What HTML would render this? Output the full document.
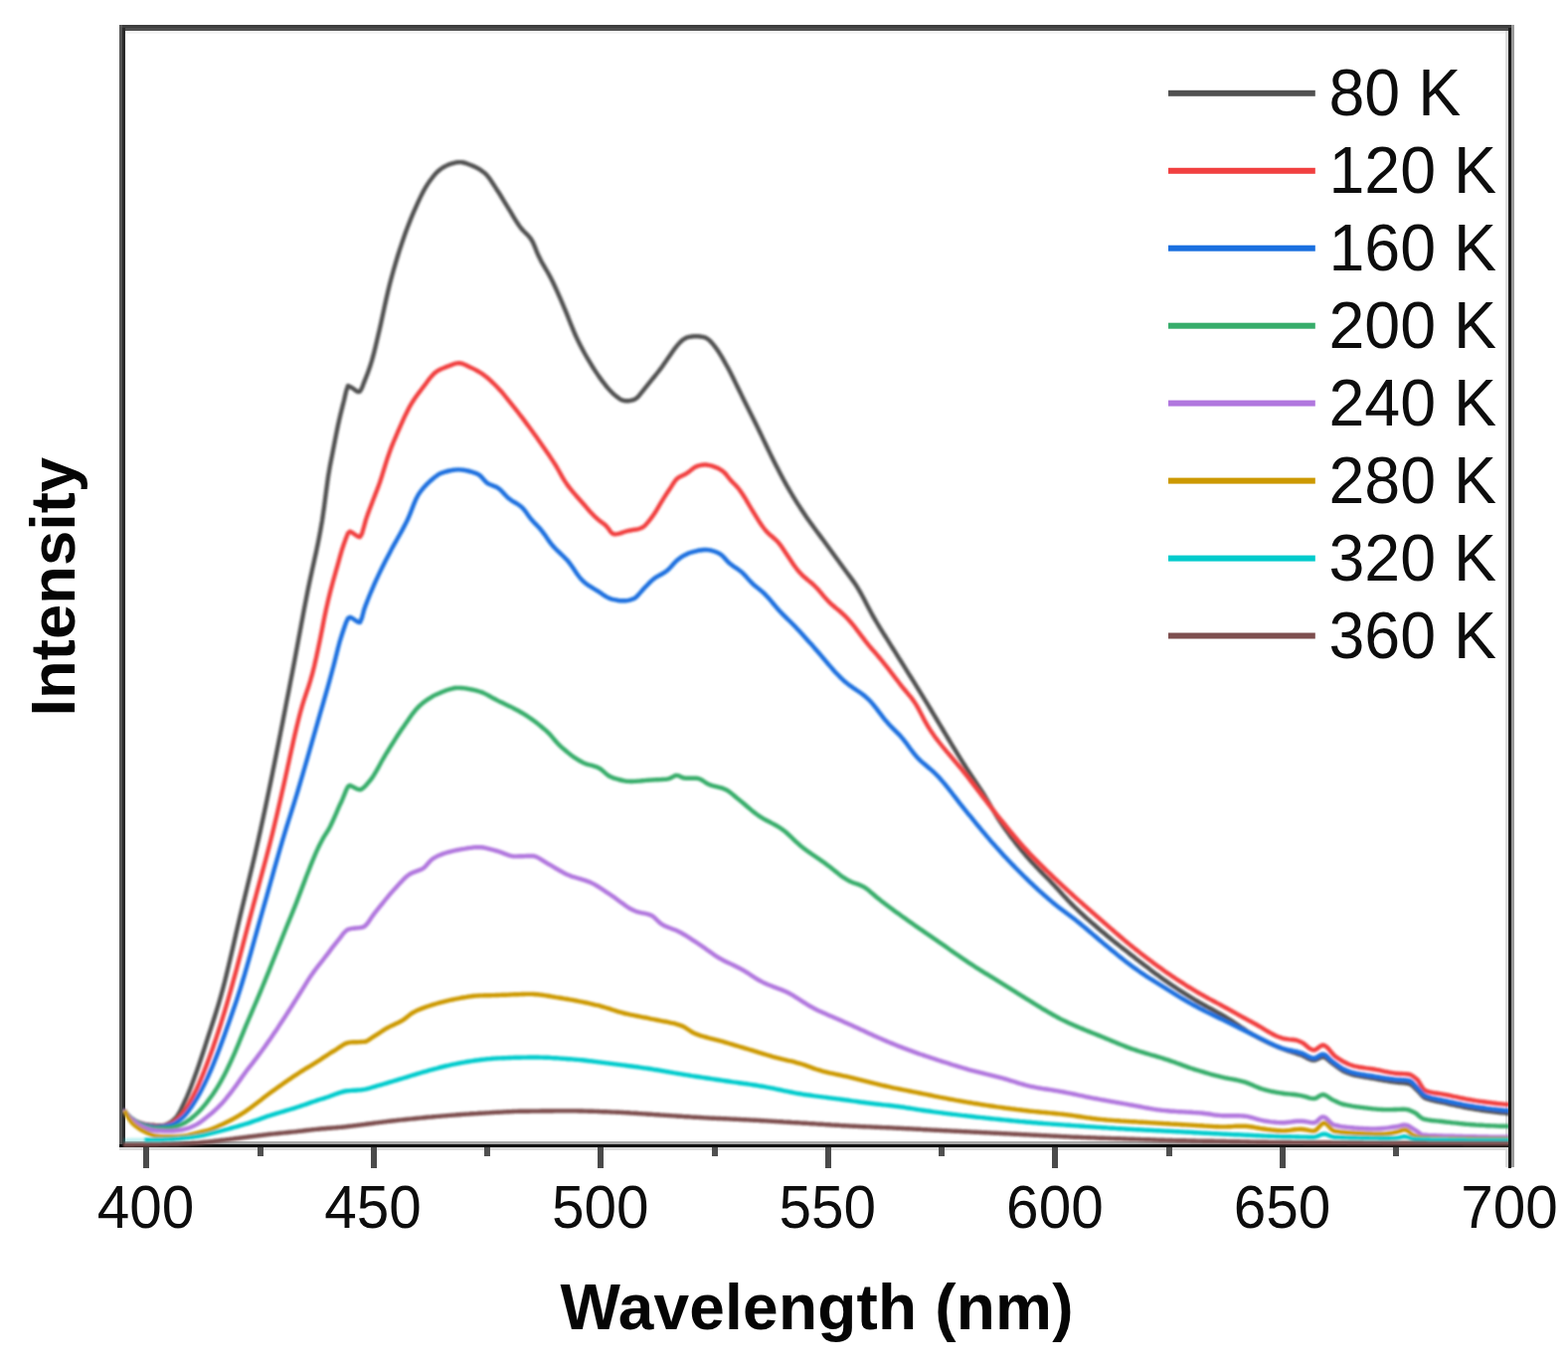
<!DOCTYPE html>
<html lang="en">
<head>
<meta charset="utf-8">
<title>Temperature-dependent emission spectra</title>
<style>
html,body{margin:0;padding:0;background:#fff;}
body{width:1577px;height:1377px;overflow:hidden;}
svg{display:block;}
text{font-family:"Liberation Sans",sans-serif;fill:#0d0d0d;}
.tick{font-size:58.5px;text-anchor:middle;}
.leg{font-size:64.5px;}
.axl{font-size:64px;font-weight:bold;text-anchor:middle;fill:#050505;}
.curve{fill:none;stroke-width:4.4;stroke-linejoin:round;stroke-linecap:butt;}
</style>
</head>
<body>
<svg width="1577" height="1377" viewBox="0 0 1577 1377">
<rect x="0" y="0" width="1577" height="1377" fill="#ffffff"/>
<g shape-rendering="crispEdges">
<rect x="120" y="25" width="1400" height="3" fill="#3d3d3d"/>
<rect x="120" y="28" width="1400" height="3" fill="#4f4f4f"/>
<rect x="126" y="31" width="1388" height="3" fill="#f6f6f6"/>
<rect x="120" y="25" width="3" height="1129" fill="#555555"/>
<rect x="123" y="28" width="3" height="1126" fill="#2a2a2a"/>
<rect x="1514" y="31" width="3" height="1143" fill="#dddddd"/>
<rect x="1520" y="25" width="3" height="1149" fill="#999999"/>
<rect x="126" y="1148" width="1391" height="3" fill="#aaaaaa"/>
<rect x="120" y="1154" width="1400" height="3" fill="#dcdcdc"/>
<rect x="120" y="1151" width="1400" height="3" fill="#111111"/>
</g>
<g clip-path="url(#clipPlot)"><g filter="url(#soft)">
<path class="curve" stroke="#515151" d="M124.0 1116.0 L126.0 1118.7 L128.0 1121.0 L130.0 1123.1 L132.0 1124.8 L134.0 1126.2 L136.0 1127.5 L138.0 1128.4 L140.0 1129.2 L142.0 1129.8 L144.0 1130.4 L146.0 1130.9 L148.0 1131.2 L150.0 1131.5 L152.0 1131.7 L154.0 1131.8 L156.0 1132.0 L158.0 1132.1 L160.0 1132.1 L162.0 1132.2 L164.0 1132.0 L166.0 1131.6 L168.0 1130.9 L170.0 1129.8 L172.0 1128.5 L174.0 1127.0 L176.0 1125.2 L178.0 1122.9 L180.0 1119.7 L182.0 1115.9 L184.0 1111.8 L186.0 1107.5 L188.0 1103.1 L190.0 1098.3 L192.0 1093.3 L194.0 1088.0 L196.0 1082.6 L198.0 1077.1 L200.0 1071.3 L202.0 1065.3 L204.0 1059.2 L206.0 1053.1 L208.0 1046.9 L210.0 1040.7 L212.0 1034.6 L214.0 1028.5 L216.0 1022.3 L218.0 1015.9 L220.0 1009.3 L222.0 1002.4 L224.0 995.1 L226.0 987.5 L228.0 979.4 L230.0 971.1 L232.0 962.6 L234.0 954.0 L236.0 945.3 L238.0 936.6 L240.0 928.0 L242.0 919.5 L244.0 911.2 L246.0 902.9 L248.0 894.7 L250.0 886.5 L252.0 878.2 L254.0 869.9 L256.0 861.4 L258.0 852.8 L260.0 844.0 L262.0 835.0 L264.0 825.8 L266.0 816.5 L268.0 807.0 L270.0 797.4 L272.0 787.7 L274.0 777.9 L276.0 768.0 L278.0 758.0 L280.0 748.0 L282.0 737.8 L284.0 727.7 L286.0 717.5 L288.0 707.2 L290.0 697.0 L292.0 686.7 L294.0 676.3 L296.0 665.8 L298.0 655.2 L300.0 644.4 L302.0 633.6 L304.0 622.9 L306.0 612.2 L308.0 601.8 L310.0 591.8 L312.0 582.2 L314.0 573.1 L316.0 564.1 L318.0 555.0 L320.0 545.5 L322.0 535.2 L324.0 523.6 L326.0 510.0 L328.0 494.5 L330.0 479.7 L332.0 468.0 L334.0 457.9 L336.0 447.7 L338.0 437.4 L340.0 427.5 L342.0 418.7 L344.0 410.6 L346.0 402.8 L348.0 393.9 L350.0 388.0 L352.0 388.9 L354.0 390.1 L356.0 391.4 L358.0 393.0 L360.0 394.1 L362.0 393.8 L364.0 390.2 L366.0 384.9 L368.0 379.9 L370.0 374.8 L372.0 369.1 L374.0 362.7 L376.0 355.4 L378.0 347.3 L380.0 338.8 L382.0 330.2 L384.0 321.2 L386.0 311.9 L388.0 302.7 L390.0 293.9 L392.0 285.8 L394.0 278.2 L396.0 271.0 L398.0 264.1 L400.0 257.5 L402.0 251.1 L404.0 245.1 L406.0 239.2 L408.0 233.6 L410.0 228.3 L412.0 223.1 L414.0 218.1 L416.0 213.4 L418.0 208.8 L420.0 204.4 L422.0 200.1 L424.0 195.9 L426.0 192.1 L428.0 188.5 L430.0 185.4 L432.0 182.4 L434.0 179.7 L436.0 177.1 L438.0 174.8 L440.0 172.7 L442.0 171.0 L444.0 169.5 L446.0 168.2 L448.0 167.1 L450.0 166.1 L452.0 165.3 L454.0 164.7 L456.0 164.1 L458.0 163.6 L460.0 163.2 L462.0 163.1 L464.0 163.1 L466.0 163.5 L468.0 164.0 L470.0 164.7 L472.0 165.5 L474.0 166.3 L476.0 167.1 L478.0 168.0 L480.0 169.0 L482.0 170.1 L484.0 171.4 L486.0 172.9 L488.0 174.5 L490.0 176.6 L492.0 179.1 L494.0 182.0 L496.0 185.0 L498.0 188.1 L500.0 191.2 L502.0 194.3 L504.0 197.5 L506.0 200.8 L508.0 204.1 L510.0 207.3 L512.0 210.6 L514.0 213.9 L516.0 217.3 L518.0 220.6 L520.0 223.8 L522.0 226.8 L524.0 229.5 L526.0 231.8 L528.0 233.8 L530.0 235.7 L532.0 237.8 L534.0 240.4 L536.0 243.9 L538.0 248.5 L540.0 253.6 L542.0 258.1 L544.0 262.1 L546.0 265.7 L548.0 269.1 L550.0 272.5 L552.0 276.0 L554.0 279.8 L556.0 283.8 L558.0 288.0 L560.0 292.4 L562.0 296.9 L564.0 301.4 L566.0 306.1 L568.0 310.8 L570.0 315.7 L572.0 320.7 L574.0 325.8 L576.0 330.7 L578.0 335.5 L580.0 339.9 L582.0 344.1 L584.0 348.0 L586.0 351.8 L588.0 355.5 L590.0 359.0 L592.0 362.4 L594.0 365.7 L596.0 369.0 L598.0 372.1 L600.0 375.1 L602.0 378.1 L604.0 380.9 L606.0 383.6 L608.0 386.2 L610.0 388.8 L612.0 391.1 L614.0 393.3 L616.0 395.3 L618.0 397.1 L620.0 398.7 L622.0 400.3 L624.0 401.7 L626.0 402.6 L628.0 403.0 L630.0 403.2 L632.0 403.2 L634.0 402.9 L636.0 402.5 L638.0 401.8 L640.0 400.6 L642.0 398.8 L644.0 396.4 L646.0 393.9 L648.0 391.4 L650.0 388.9 L652.0 386.4 L654.0 383.9 L656.0 381.4 L658.0 379.0 L660.0 376.5 L662.0 374.0 L664.0 371.4 L666.0 368.7 L668.0 365.8 L670.0 363.0 L672.0 360.1 L674.0 357.2 L676.0 354.3 L678.0 351.4 L680.0 348.8 L682.0 346.4 L684.0 344.3 L686.0 342.4 L688.0 341.0 L690.0 339.9 L692.0 339.2 L694.0 338.8 L696.0 338.5 L698.0 338.3 L700.0 338.2 L702.0 338.3 L704.0 338.5 L706.0 338.8 L708.0 339.2 L710.0 339.9 L712.0 341.1 L714.0 342.7 L716.0 344.9 L718.0 347.3 L720.0 349.9 L722.0 352.8 L724.0 355.9 L726.0 359.2 L728.0 362.6 L730.0 366.2 L732.0 369.8 L734.0 373.6 L736.0 377.5 L738.0 381.5 L740.0 385.6 L742.0 389.7 L744.0 393.8 L746.0 397.9 L748.0 401.9 L750.0 405.9 L752.0 409.9 L754.0 413.9 L756.0 417.9 L758.0 421.9 L760.0 426.0 L762.0 430.1 L764.0 434.2 L766.0 438.4 L768.0 442.6 L770.0 446.8 L772.0 451.0 L774.0 455.1 L776.0 459.2 L778.0 463.2 L780.0 467.2 L782.0 471.1 L784.0 474.9 L786.0 478.7 L788.0 482.5 L790.0 486.1 L792.0 489.7 L794.0 493.1 L796.0 496.5 L798.0 499.9 L800.0 503.1 L802.0 506.3 L804.0 509.4 L806.0 512.5 L808.0 515.5 L810.0 518.5 L812.0 521.4 L814.0 524.2 L816.0 527.0 L818.0 529.8 L820.0 532.5 L822.0 535.2 L824.0 537.9 L826.0 540.6 L828.0 543.3 L830.0 546.0 L832.0 548.7 L834.0 551.5 L836.0 554.2 L838.0 557.0 L840.0 559.7 L842.0 562.5 L844.0 565.2 L846.0 568.0 L848.0 570.7 L850.0 573.5 L852.0 576.2 L854.0 578.9 L856.0 581.6 L858.0 584.4 L860.0 587.3 L862.0 590.3 L864.0 593.6 L866.0 597.1 L868.0 600.7 L870.0 604.6 L872.0 608.4 L874.0 612.3 L876.0 616.0 L878.0 619.6 L880.0 623.1 L882.0 626.5 L884.0 629.8 L886.0 633.1 L888.0 636.3 L890.0 639.5 L892.0 642.7 L894.0 645.9 L896.0 649.1 L898.0 652.2 L900.0 655.4 L902.0 658.6 L904.0 661.8 L906.0 665.0 L908.0 668.2 L910.0 671.4 L912.0 674.6 L914.0 677.8 L916.0 681.0 L918.0 684.2 L920.0 687.4 L922.0 690.6 L924.0 693.9 L926.0 697.1 L928.0 700.4 L930.0 703.6 L932.0 706.9 L934.0 710.2 L936.0 713.5 L938.0 716.9 L940.0 720.2 L942.0 723.5 L944.0 726.9 L946.0 730.2 L948.0 733.5 L950.0 736.9 L952.0 740.2 L954.0 743.5 L956.0 746.8 L958.0 750.1 L960.0 753.4 L962.0 756.7 L964.0 759.9 L966.0 763.1 L968.0 766.3 L970.0 769.5 L972.0 772.6 L974.0 775.7 L976.0 778.7 L978.0 781.7 L980.0 784.7 L982.0 787.7 L984.0 790.7 L986.0 793.7 L988.0 796.8 L990.0 800.0 L992.0 803.3 L994.0 806.7 L996.0 810.2 L998.0 813.6 L1000.0 817.0 L1002.0 820.3 L1004.0 823.5 L1006.0 826.6 L1008.0 829.6 L1010.0 832.5 L1012.0 835.3 L1014.0 838.0 L1016.0 840.8 L1018.0 843.4 L1020.0 846.0 L1022.0 848.6 L1024.0 851.1 L1026.0 853.6 L1028.0 856.0 L1030.0 858.4 L1032.0 860.7 L1034.0 863.0 L1036.0 865.3 L1038.0 867.5 L1040.0 869.6 L1042.0 871.7 L1044.0 873.8 L1046.0 875.9 L1048.0 877.9 L1050.0 880.0 L1052.0 882.0 L1054.0 884.0 L1056.0 886.1 L1058.0 888.2 L1060.0 890.3 L1062.0 892.4 L1064.0 894.6 L1066.0 896.8 L1068.0 899.0 L1070.0 901.2 L1072.0 903.3 L1074.0 905.5 L1076.0 907.6 L1078.0 909.6 L1080.0 911.6 L1082.0 913.5 L1084.0 915.4 L1086.0 917.3 L1088.0 919.2 L1090.0 921.0 L1092.0 922.8 L1094.0 924.6 L1096.0 926.3 L1098.0 928.1 L1100.0 929.8 L1102.0 931.5 L1104.0 933.3 L1106.0 935.0 L1108.0 936.7 L1110.0 938.3 L1112.0 940.0 L1114.0 941.7 L1116.0 943.3 L1118.0 945.0 L1120.0 946.6 L1122.0 948.2 L1124.0 949.8 L1126.0 951.4 L1128.0 953.0 L1130.0 954.5 L1132.0 956.1 L1134.0 957.6 L1136.0 959.2 L1138.0 960.8 L1140.0 962.3 L1142.0 963.9 L1144.0 965.4 L1146.0 967.0 L1148.0 968.5 L1150.0 970.0 L1152.0 971.6 L1154.0 973.1 L1156.0 974.6 L1158.0 976.2 L1160.0 977.7 L1162.0 979.2 L1164.0 980.6 L1166.0 982.1 L1168.0 983.5 L1170.0 985.0 L1172.0 986.4 L1174.0 987.7 L1176.0 989.1 L1178.0 990.5 L1180.0 991.8 L1182.0 993.2 L1184.0 994.5 L1186.0 995.8 L1188.0 997.1 L1190.0 998.4 L1192.0 999.7 L1194.0 1000.9 L1196.0 1002.2 L1198.0 1003.4 L1200.0 1004.6 L1202.0 1005.8 L1204.0 1007.0 L1206.0 1008.2 L1208.0 1009.3 L1210.0 1010.4 L1212.0 1011.5 L1214.0 1012.6 L1216.0 1013.7 L1218.0 1014.8 L1220.0 1015.9 L1222.0 1017.0 L1224.0 1018.1 L1226.0 1019.2 L1228.0 1020.3 L1230.0 1021.5 L1232.0 1022.7 L1234.0 1023.9 L1236.0 1025.1 L1238.0 1026.4 L1240.0 1027.7 L1242.0 1029.0 L1244.0 1030.4 L1246.0 1031.7 L1248.0 1033.1 L1250.0 1034.4 L1252.0 1035.7 L1254.0 1037.0 L1256.0 1038.3 L1258.0 1039.5 L1260.0 1040.7 L1262.0 1041.8 L1264.0 1042.9 L1266.0 1044.0 L1268.0 1045.0 L1270.0 1046.0 L1272.0 1047.0 L1274.0 1048.0 L1276.0 1049.0 L1278.0 1049.9 L1280.0 1050.8 L1282.0 1051.7 L1284.0 1052.6 L1286.0 1053.4 L1288.0 1054.2 L1290.0 1055.0 L1292.0 1055.7 L1294.0 1056.4 L1296.0 1057.1 L1298.0 1057.7 L1300.0 1058.3 L1302.0 1058.9 L1304.0 1059.6 L1306.0 1060.3 L1308.0 1061.0 L1310.0 1061.8 L1312.0 1062.8 L1314.0 1063.9 L1316.0 1065.0 L1318.0 1065.8 L1320.0 1066.4 L1322.0 1066.5 L1324.0 1065.9 L1326.0 1064.8 L1328.0 1063.7 L1330.0 1063.0 L1332.0 1063.3 L1334.0 1064.5 L1336.0 1066.2 L1338.0 1068.1 L1340.0 1069.6 L1342.0 1071.0 L1344.0 1072.5 L1346.0 1074.0 L1348.0 1075.4 L1350.0 1076.7 L1352.0 1077.8 L1354.0 1078.7 L1356.0 1079.5 L1358.0 1080.2 L1360.0 1080.8 L1362.0 1081.3 L1364.0 1081.8 L1366.0 1082.2 L1368.0 1082.6 L1370.0 1082.9 L1372.0 1083.3 L1374.0 1083.6 L1376.0 1083.9 L1378.0 1084.3 L1380.0 1084.6 L1382.0 1084.9 L1384.0 1085.3 L1386.0 1085.7 L1388.0 1086.0 L1390.0 1086.4 L1392.0 1086.8 L1394.0 1087.1 L1396.0 1087.4 L1398.0 1087.8 L1400.0 1088.1 L1402.0 1088.3 L1404.0 1088.6 L1406.0 1088.8 L1408.0 1089.0 L1410.0 1089.1 L1412.0 1089.3 L1414.0 1089.5 L1416.0 1089.8 L1418.0 1090.3 L1420.0 1091.6 L1422.0 1093.4 L1424.0 1095.4 L1426.0 1097.3 L1428.0 1099.5 L1430.0 1101.8 L1432.0 1103.7 L1434.0 1104.8 L1436.0 1105.5 L1438.0 1106.2 L1440.0 1106.7 L1442.0 1107.2 L1444.0 1107.6 L1446.0 1108.0 L1448.0 1108.4 L1450.0 1108.8 L1452.0 1109.2 L1454.0 1109.6 L1456.0 1110.1 L1458.0 1110.5 L1460.0 1111.0 L1462.0 1111.4 L1464.0 1111.8 L1466.0 1112.3 L1468.0 1112.7 L1470.0 1113.1 L1472.0 1113.6 L1474.0 1114.0 L1476.0 1114.4 L1478.0 1114.7 L1480.0 1115.1 L1482.0 1115.4 L1484.0 1115.8 L1486.0 1116.1 L1488.0 1116.4 L1490.0 1116.7 L1492.0 1117.0 L1494.0 1117.3 L1496.0 1117.5 L1498.0 1117.8 L1500.0 1118.1 L1502.0 1118.3 L1504.0 1118.6 L1506.0 1118.8 L1508.0 1119.0 L1510.0 1119.2 L1512.0 1119.4 L1514.0 1119.6 L1516.0 1119.8 L1518.0 1120.0"/>
<path class="curve" stroke="#F14040" d="M124.0 1116.0 L126.0 1118.7 L128.0 1121.0 L130.0 1123.1 L132.0 1124.7 L134.0 1126.2 L136.0 1127.4 L138.0 1128.5 L140.0 1129.3 L142.0 1130.2 L144.0 1130.9 L146.0 1131.5 L148.0 1132.0 L150.0 1132.4 L152.0 1132.6 L154.0 1132.7 L156.0 1132.8 L158.0 1132.9 L160.0 1133.0 L162.0 1132.9 L164.0 1132.8 L166.0 1132.3 L168.0 1131.7 L170.0 1130.9 L172.0 1130.0 L174.0 1129.0 L176.0 1127.7 L178.0 1126.0 L180.0 1124.1 L182.0 1122.0 L184.0 1119.7 L186.0 1117.0 L188.0 1113.9 L190.0 1110.5 L192.0 1106.9 L194.0 1103.0 L196.0 1099.0 L198.0 1094.9 L200.0 1090.4 L202.0 1085.7 L204.0 1080.8 L206.0 1075.8 L208.0 1070.6 L210.0 1065.3 L212.0 1059.8 L214.0 1054.2 L216.0 1048.3 L218.0 1042.4 L220.0 1036.3 L222.0 1030.1 L224.0 1023.7 L226.0 1017.1 L228.0 1010.4 L230.0 1003.5 L232.0 996.4 L234.0 989.2 L236.0 981.9 L238.0 974.5 L240.0 966.9 L242.0 959.3 L244.0 951.6 L246.0 944.0 L248.0 936.3 L250.0 928.6 L252.0 921.0 L254.0 913.5 L256.0 906.1 L258.0 898.7 L260.0 891.4 L262.0 884.0 L264.0 876.7 L266.0 869.3 L268.0 861.7 L270.0 854.1 L272.0 846.3 L274.0 838.3 L276.0 830.1 L278.0 821.6 L280.0 813.0 L282.0 804.3 L284.0 795.6 L286.0 786.7 L288.0 777.6 L290.0 768.5 L292.0 759.3 L294.0 750.2 L296.0 741.3 L298.0 732.7 L300.0 724.4 L302.0 716.7 L304.0 709.6 L306.0 703.2 L308.0 697.3 L310.0 691.5 L312.0 685.2 L314.0 678.2 L316.0 670.3 L318.0 661.5 L320.0 652.3 L322.0 642.8 L324.0 632.7 L326.0 622.4 L328.0 612.7 L330.0 603.9 L332.0 595.9 L334.0 588.3 L336.0 581.0 L338.0 573.9 L340.0 566.8 L342.0 559.6 L344.0 552.7 L346.0 546.7 L348.0 541.2 L350.0 536.2 L352.0 534.6 L354.0 535.6 L356.0 537.0 L358.0 538.3 L360.0 539.7 L362.0 540.2 L364.0 536.8 L366.0 530.0 L368.0 522.6 L370.0 516.8 L372.0 511.5 L374.0 506.2 L376.0 501.0 L378.0 495.9 L380.0 490.7 L382.0 485.2 L384.0 479.1 L386.0 472.7 L388.0 466.1 L390.0 459.9 L392.0 454.2 L394.0 448.9 L396.0 444.0 L398.0 439.3 L400.0 434.7 L402.0 430.2 L404.0 425.7 L406.0 421.2 L408.0 416.9 L410.0 412.9 L412.0 409.1 L414.0 405.7 L416.0 402.5 L418.0 399.6 L420.0 396.8 L422.0 394.1 L424.0 391.5 L426.0 388.9 L428.0 386.2 L430.0 383.5 L432.0 380.8 L434.0 378.4 L436.0 376.2 L438.0 374.5 L440.0 373.1 L442.0 372.0 L444.0 371.0 L446.0 370.2 L448.0 369.4 L450.0 368.6 L452.0 367.9 L454.0 367.1 L456.0 366.3 L458.0 365.7 L460.0 365.3 L462.0 365.2 L464.0 365.5 L466.0 366.2 L468.0 367.0 L470.0 368.0 L472.0 369.0 L474.0 369.9 L476.0 370.9 L478.0 371.9 L480.0 373.0 L482.0 374.2 L484.0 375.4 L486.0 376.7 L488.0 378.2 L490.0 379.8 L492.0 381.5 L494.0 383.4 L496.0 385.3 L498.0 387.3 L500.0 389.3 L502.0 391.4 L504.0 393.6 L506.0 395.9 L508.0 398.3 L510.0 400.8 L512.0 403.3 L514.0 405.9 L516.0 408.4 L518.0 410.9 L520.0 413.4 L522.0 416.0 L524.0 418.6 L526.0 421.2 L528.0 423.9 L530.0 426.6 L532.0 429.3 L534.0 432.0 L536.0 434.7 L538.0 437.5 L540.0 440.3 L542.0 443.2 L544.0 446.0 L546.0 448.9 L548.0 451.8 L550.0 454.7 L552.0 457.6 L554.0 460.6 L556.0 463.6 L558.0 466.7 L560.0 470.0 L562.0 473.5 L564.0 477.1 L566.0 480.6 L568.0 483.9 L570.0 486.9 L572.0 489.6 L574.0 492.2 L576.0 494.6 L578.0 496.9 L580.0 499.2 L582.0 501.5 L584.0 503.7 L586.0 506.0 L588.0 508.3 L590.0 510.7 L592.0 513.0 L594.0 515.2 L596.0 517.3 L598.0 519.4 L600.0 521.2 L602.0 522.9 L604.0 524.4 L606.0 525.9 L608.0 527.4 L610.0 529.3 L612.0 531.8 L614.0 534.7 L616.0 536.7 L618.0 537.4 L620.0 537.2 L622.0 536.8 L624.0 536.3 L626.0 535.6 L628.0 535.0 L630.0 534.4 L632.0 533.9 L634.0 533.5 L636.0 533.1 L638.0 532.8 L640.0 532.5 L642.0 532.1 L644.0 531.5 L646.0 530.6 L648.0 529.2 L650.0 527.2 L652.0 524.8 L654.0 522.3 L656.0 519.7 L658.0 516.8 L660.0 513.7 L662.0 510.3 L664.0 506.9 L666.0 503.6 L668.0 500.4 L670.0 497.3 L672.0 494.3 L674.0 491.3 L676.0 488.1 L678.0 485.0 L680.0 482.4 L682.0 480.6 L684.0 479.4 L686.0 478.5 L688.0 477.6 L690.0 476.5 L692.0 475.2 L694.0 473.6 L696.0 472.0 L698.0 470.5 L700.0 469.4 L702.0 468.6 L704.0 468.1 L706.0 467.7 L708.0 467.5 L710.0 467.5 L712.0 467.8 L714.0 468.2 L716.0 468.7 L718.0 469.4 L720.0 470.1 L722.0 470.9 L724.0 472.0 L726.0 473.3 L728.0 474.9 L730.0 476.9 L732.0 479.5 L734.0 482.0 L736.0 484.2 L738.0 486.3 L740.0 488.3 L742.0 490.5 L744.0 493.0 L746.0 495.9 L748.0 499.0 L750.0 502.2 L752.0 505.6 L754.0 509.0 L756.0 512.3 L758.0 515.6 L760.0 518.9 L762.0 522.1 L764.0 525.3 L766.0 528.3 L768.0 531.0 L770.0 533.5 L772.0 535.7 L774.0 537.6 L776.0 539.3 L778.0 541.0 L780.0 542.8 L782.0 544.8 L784.0 547.1 L786.0 549.8 L788.0 552.7 L790.0 555.7 L792.0 558.8 L794.0 561.8 L796.0 564.8 L798.0 567.7 L800.0 570.5 L802.0 573.1 L804.0 575.5 L806.0 577.6 L808.0 579.6 L810.0 581.3 L812.0 583.0 L814.0 584.6 L816.0 586.3 L818.0 588.0 L820.0 590.0 L822.0 592.1 L824.0 594.3 L826.0 596.7 L828.0 599.1 L830.0 601.4 L832.0 603.6 L834.0 605.7 L836.0 607.6 L838.0 609.3 L840.0 611.0 L842.0 612.6 L844.0 614.3 L846.0 616.0 L848.0 617.8 L850.0 619.7 L852.0 621.8 L854.0 624.0 L856.0 626.3 L858.0 628.7 L860.0 631.2 L862.0 633.8 L864.0 636.4 L866.0 639.1 L868.0 641.7 L870.0 644.4 L872.0 646.9 L874.0 649.4 L876.0 651.7 L878.0 654.1 L880.0 656.3 L882.0 658.6 L884.0 661.0 L886.0 663.4 L888.0 665.8 L890.0 668.3 L892.0 670.9 L894.0 673.4 L896.0 676.1 L898.0 678.7 L900.0 681.3 L902.0 683.9 L904.0 686.5 L906.0 689.1 L908.0 691.6 L910.0 694.0 L912.0 696.4 L914.0 698.8 L916.0 701.2 L918.0 703.8 L920.0 706.7 L922.0 709.9 L924.0 713.4 L926.0 717.2 L928.0 721.1 L930.0 724.9 L932.0 728.4 L934.0 731.8 L936.0 734.9 L938.0 737.8 L940.0 740.7 L942.0 743.4 L944.0 746.0 L946.0 748.5 L948.0 751.0 L950.0 753.4 L952.0 755.8 L954.0 758.2 L956.0 760.5 L958.0 762.9 L960.0 765.2 L962.0 767.6 L964.0 770.0 L966.0 772.4 L968.0 774.9 L970.0 777.4 L972.0 779.9 L974.0 782.5 L976.0 785.1 L978.0 787.7 L980.0 790.3 L982.0 793.0 L984.0 795.6 L986.0 798.2 L988.0 800.8 L990.0 803.4 L992.0 806.0 L994.0 808.6 L996.0 811.2 L998.0 813.7 L1000.0 816.2 L1002.0 818.8 L1004.0 821.3 L1006.0 823.8 L1008.0 826.2 L1010.0 828.7 L1012.0 831.2 L1014.0 833.6 L1016.0 836.1 L1018.0 838.5 L1020.0 840.9 L1022.0 843.2 L1024.0 845.6 L1026.0 847.9 L1028.0 850.2 L1030.0 852.4 L1032.0 854.6 L1034.0 856.8 L1036.0 858.9 L1038.0 861.0 L1040.0 863.1 L1042.0 865.1 L1044.0 867.1 L1046.0 869.2 L1048.0 871.1 L1050.0 873.1 L1052.0 875.1 L1054.0 877.0 L1056.0 878.9 L1058.0 880.9 L1060.0 882.8 L1062.0 884.7 L1064.0 886.6 L1066.0 888.4 L1068.0 890.3 L1070.0 892.2 L1072.0 894.0 L1074.0 895.8 L1076.0 897.7 L1078.0 899.5 L1080.0 901.3 L1082.0 903.1 L1084.0 904.9 L1086.0 906.6 L1088.0 908.4 L1090.0 910.2 L1092.0 911.9 L1094.0 913.7 L1096.0 915.4 L1098.0 917.2 L1100.0 918.9 L1102.0 920.7 L1104.0 922.4 L1106.0 924.2 L1108.0 925.9 L1110.0 927.7 L1112.0 929.4 L1114.0 931.1 L1116.0 932.9 L1118.0 934.6 L1120.0 936.3 L1122.0 938.1 L1124.0 939.8 L1126.0 941.5 L1128.0 943.2 L1130.0 944.9 L1132.0 946.6 L1134.0 948.3 L1136.0 949.9 L1138.0 951.5 L1140.0 953.1 L1142.0 954.7 L1144.0 956.3 L1146.0 957.9 L1148.0 959.5 L1150.0 961.0 L1152.0 962.5 L1154.0 964.1 L1156.0 965.6 L1158.0 967.1 L1160.0 968.6 L1162.0 970.0 L1164.0 971.5 L1166.0 972.9 L1168.0 974.3 L1170.0 975.8 L1172.0 977.2 L1174.0 978.6 L1176.0 979.9 L1178.0 981.3 L1180.0 982.6 L1182.0 984.0 L1184.0 985.3 L1186.0 986.6 L1188.0 987.9 L1190.0 989.2 L1192.0 990.5 L1194.0 991.8 L1196.0 993.0 L1198.0 994.2 L1200.0 995.4 L1202.0 996.6 L1204.0 997.8 L1206.0 999.0 L1208.0 1000.1 L1210.0 1001.2 L1212.0 1002.4 L1214.0 1003.5 L1216.0 1004.6 L1218.0 1005.6 L1220.0 1006.7 L1222.0 1007.8 L1224.0 1008.9 L1226.0 1009.9 L1228.0 1011.0 L1230.0 1012.1 L1232.0 1013.2 L1234.0 1014.3 L1236.0 1015.4 L1238.0 1016.5 L1240.0 1017.6 L1242.0 1018.7 L1244.0 1019.9 L1246.0 1021.0 L1248.0 1022.1 L1250.0 1023.2 L1252.0 1024.3 L1254.0 1025.4 L1256.0 1026.5 L1258.0 1027.5 L1260.0 1028.6 L1262.0 1029.7 L1264.0 1030.8 L1266.0 1032.0 L1268.0 1033.1 L1270.0 1034.3 L1272.0 1035.6 L1274.0 1036.8 L1276.0 1038.0 L1278.0 1039.1 L1280.0 1040.2 L1282.0 1041.3 L1284.0 1042.2 L1286.0 1043.0 L1288.0 1043.7 L1290.0 1044.3 L1292.0 1044.8 L1294.0 1045.1 L1296.0 1045.4 L1298.0 1045.6 L1300.0 1045.7 L1302.0 1046.0 L1304.0 1046.4 L1306.0 1047.0 L1308.0 1047.9 L1310.0 1048.9 L1312.0 1050.3 L1314.0 1052.0 L1316.0 1053.7 L1318.0 1055.1 L1320.0 1056.0 L1322.0 1056.2 L1324.0 1055.3 L1326.0 1053.7 L1328.0 1052.2 L1330.0 1051.3 L1332.0 1051.5 L1334.0 1052.8 L1336.0 1054.8 L1338.0 1057.1 L1340.0 1059.6 L1342.0 1061.8 L1344.0 1063.4 L1346.0 1064.7 L1348.0 1066.0 L1350.0 1067.2 L1352.0 1068.2 L1354.0 1069.2 L1356.0 1070.2 L1358.0 1071.0 L1360.0 1071.7 L1362.0 1072.3 L1364.0 1072.7 L1366.0 1073.2 L1368.0 1073.5 L1370.0 1073.8 L1372.0 1074.1 L1374.0 1074.4 L1376.0 1074.6 L1378.0 1074.9 L1380.0 1075.2 L1382.0 1075.5 L1384.0 1075.9 L1386.0 1076.2 L1388.0 1076.7 L1390.0 1077.1 L1392.0 1077.6 L1394.0 1078.0 L1396.0 1078.4 L1398.0 1078.8 L1400.0 1079.1 L1402.0 1079.4 L1404.0 1079.7 L1406.0 1079.8 L1408.0 1080.0 L1410.0 1080.0 L1412.0 1080.1 L1414.0 1080.3 L1416.0 1080.5 L1418.0 1080.8 L1420.0 1081.7 L1422.0 1083.1 L1424.0 1084.7 L1426.0 1086.5 L1428.0 1089.6 L1430.0 1093.1 L1432.0 1095.9 L1434.0 1097.2 L1436.0 1097.8 L1438.0 1098.4 L1440.0 1098.8 L1442.0 1099.2 L1444.0 1099.5 L1446.0 1099.8 L1448.0 1100.1 L1450.0 1100.4 L1452.0 1100.8 L1454.0 1101.1 L1456.0 1101.5 L1458.0 1101.9 L1460.0 1102.3 L1462.0 1102.8 L1464.0 1103.2 L1466.0 1103.6 L1468.0 1104.1 L1470.0 1104.5 L1472.0 1104.9 L1474.0 1105.3 L1476.0 1105.7 L1478.0 1106.0 L1480.0 1106.4 L1482.0 1106.7 L1484.0 1107.1 L1486.0 1107.4 L1488.0 1107.7 L1490.0 1107.9 L1492.0 1108.2 L1494.0 1108.5 L1496.0 1108.8 L1498.0 1109.0 L1500.0 1109.3 L1502.0 1109.5 L1504.0 1109.7 L1506.0 1110.0 L1508.0 1110.2 L1510.0 1110.4 L1512.0 1110.6 L1514.0 1110.8 L1516.0 1110.9 L1518.0 1111.1"/>
<path class="curve" stroke="#1A6FDF" d="M124.0 1116.0 L126.0 1118.6 L128.0 1121.0 L130.0 1123.0 L132.0 1124.8 L134.0 1126.3 L136.0 1127.6 L138.0 1128.8 L140.0 1129.8 L142.0 1130.7 L144.0 1131.4 L146.0 1132.0 L148.0 1132.5 L150.0 1132.9 L152.0 1133.2 L154.0 1133.5 L156.0 1133.7 L158.0 1133.8 L160.0 1133.7 L162.0 1133.5 L164.0 1133.3 L166.0 1132.9 L168.0 1132.5 L170.0 1132.0 L172.0 1131.5 L174.0 1130.6 L176.0 1129.6 L178.0 1128.4 L180.0 1126.9 L182.0 1125.4 L184.0 1123.7 L186.0 1121.7 L188.0 1119.4 L190.0 1116.8 L192.0 1114.0 L194.0 1111.0 L196.0 1107.9 L198.0 1104.7 L200.0 1101.2 L202.0 1097.5 L204.0 1093.6 L206.0 1089.5 L208.0 1085.4 L210.0 1081.0 L212.0 1076.5 L214.0 1071.8 L216.0 1066.9 L218.0 1061.9 L220.0 1056.7 L222.0 1051.4 L224.0 1046.0 L226.0 1040.4 L228.0 1034.8 L230.0 1029.2 L232.0 1023.5 L234.0 1017.8 L236.0 1012.0 L238.0 1006.1 L240.0 999.9 L242.0 993.6 L244.0 987.0 L246.0 980.3 L248.0 973.4 L250.0 966.4 L252.0 959.3 L254.0 952.1 L256.0 945.0 L258.0 937.8 L260.0 930.6 L262.0 923.5 L264.0 916.5 L266.0 909.4 L268.0 902.3 L270.0 895.2 L272.0 888.0 L274.0 880.8 L276.0 873.7 L278.0 866.6 L280.0 859.6 L282.0 852.6 L284.0 845.8 L286.0 839.1 L288.0 832.5 L290.0 826.1 L292.0 819.8 L294.0 813.5 L296.0 807.1 L298.0 800.6 L300.0 794.0 L302.0 787.2 L304.0 780.4 L306.0 773.5 L308.0 766.6 L310.0 759.6 L312.0 752.6 L314.0 745.6 L316.0 738.6 L318.0 731.6 L320.0 724.6 L322.0 717.7 L324.0 710.8 L326.0 703.8 L328.0 696.8 L330.0 689.8 L332.0 682.7 L334.0 675.3 L336.0 667.7 L338.0 659.7 L340.0 651.7 L342.0 644.3 L344.0 638.0 L346.0 632.0 L348.0 626.2 L350.0 622.0 L352.0 620.8 L354.0 621.7 L356.0 623.0 L358.0 624.3 L360.0 625.6 L362.0 626.1 L364.0 621.5 L366.0 613.8 L368.0 608.1 L370.0 603.0 L372.0 598.0 L374.0 593.3 L376.0 588.7 L378.0 584.2 L380.0 579.9 L382.0 575.6 L384.0 571.5 L386.0 567.5 L388.0 563.6 L390.0 559.8 L392.0 555.9 L394.0 552.1 L396.0 548.4 L398.0 544.9 L400.0 541.3 L402.0 537.7 L404.0 534.1 L406.0 530.4 L408.0 526.6 L410.0 522.5 L412.0 517.9 L414.0 512.9 L416.0 507.6 L418.0 502.8 L420.0 498.9 L422.0 495.7 L424.0 493.0 L426.0 490.6 L428.0 488.4 L430.0 486.4 L432.0 484.5 L434.0 482.7 L436.0 481.0 L438.0 479.4 L440.0 477.9 L442.0 476.7 L444.0 475.8 L446.0 475.1 L448.0 474.5 L450.0 474.0 L452.0 473.5 L454.0 473.1 L456.0 472.8 L458.0 472.6 L460.0 472.4 L462.0 472.4 L464.0 472.6 L466.0 472.8 L468.0 473.1 L470.0 473.5 L472.0 474.0 L474.0 474.5 L476.0 475.1 L478.0 475.8 L480.0 476.6 L482.0 477.7 L484.0 479.5 L486.0 481.8 L488.0 484.0 L490.0 485.8 L492.0 487.0 L494.0 487.8 L496.0 488.6 L498.0 489.3 L500.0 490.3 L502.0 491.6 L504.0 493.4 L506.0 495.5 L508.0 497.8 L510.0 499.8 L512.0 501.6 L514.0 503.1 L516.0 504.3 L518.0 505.5 L520.0 506.7 L522.0 508.0 L524.0 509.5 L526.0 511.4 L528.0 513.7 L530.0 516.5 L532.0 519.4 L534.0 522.0 L536.0 524.3 L538.0 526.4 L540.0 528.4 L542.0 530.5 L544.0 532.8 L546.0 535.4 L548.0 538.1 L550.0 541.0 L552.0 543.9 L554.0 546.6 L556.0 549.0 L558.0 551.3 L560.0 553.3 L562.0 555.2 L564.0 557.1 L566.0 559.0 L568.0 560.9 L570.0 563.0 L572.0 565.3 L574.0 567.9 L576.0 570.8 L578.0 573.7 L580.0 576.7 L582.0 579.5 L584.0 582.0 L586.0 584.1 L588.0 585.9 L590.0 587.5 L592.0 588.9 L594.0 590.1 L596.0 591.4 L598.0 592.6 L600.0 593.8 L602.0 595.0 L604.0 596.4 L606.0 597.8 L608.0 599.1 L610.0 600.4 L612.0 601.4 L614.0 602.2 L616.0 602.8 L618.0 603.2 L620.0 603.6 L622.0 604.0 L624.0 604.2 L626.0 604.3 L628.0 604.3 L630.0 604.2 L632.0 603.8 L634.0 603.3 L636.0 602.7 L638.0 601.9 L640.0 600.4 L642.0 598.4 L644.0 596.1 L646.0 593.8 L648.0 591.6 L650.0 589.5 L652.0 587.4 L654.0 585.4 L656.0 583.5 L658.0 581.9 L660.0 580.5 L662.0 579.4 L664.0 578.3 L666.0 577.2 L668.0 576.0 L670.0 574.6 L672.0 573.0 L674.0 571.0 L676.0 568.8 L678.0 566.5 L680.0 564.4 L682.0 562.7 L684.0 561.2 L686.0 559.9 L688.0 558.7 L690.0 557.7 L692.0 556.7 L694.0 556.0 L696.0 555.3 L698.0 554.8 L700.0 554.3 L702.0 553.8 L704.0 553.5 L706.0 553.2 L708.0 553.0 L710.0 553.0 L712.0 553.1 L714.0 553.4 L716.0 553.9 L718.0 554.5 L720.0 555.2 L722.0 556.0 L724.0 557.1 L726.0 558.5 L728.0 560.5 L730.0 562.8 L732.0 565.0 L734.0 566.8 L736.0 568.4 L738.0 569.8 L740.0 571.1 L742.0 572.4 L744.0 573.9 L746.0 575.5 L748.0 577.4 L750.0 579.6 L752.0 581.9 L754.0 584.1 L756.0 586.2 L758.0 588.1 L760.0 589.8 L762.0 591.4 L764.0 593.0 L766.0 594.6 L768.0 596.4 L770.0 598.4 L772.0 600.5 L774.0 602.7 L776.0 605.1 L778.0 607.5 L780.0 609.9 L782.0 612.2 L784.0 614.4 L786.0 616.6 L788.0 618.6 L790.0 620.6 L792.0 622.6 L794.0 624.5 L796.0 626.5 L798.0 628.5 L800.0 630.6 L802.0 632.7 L804.0 634.8 L806.0 637.0 L808.0 639.2 L810.0 641.4 L812.0 643.7 L814.0 645.9 L816.0 648.1 L818.0 650.4 L820.0 652.7 L822.0 655.0 L824.0 657.3 L826.0 659.6 L828.0 662.0 L830.0 664.4 L832.0 666.7 L834.0 669.1 L836.0 671.4 L838.0 673.7 L840.0 675.9 L842.0 678.0 L844.0 680.1 L846.0 682.1 L848.0 684.0 L850.0 685.8 L852.0 687.4 L854.0 689.0 L856.0 690.4 L858.0 691.8 L860.0 693.1 L862.0 694.5 L864.0 695.8 L866.0 697.2 L868.0 698.7 L870.0 700.3 L872.0 702.1 L874.0 704.0 L876.0 706.1 L878.0 708.4 L880.0 710.9 L882.0 713.4 L884.0 716.1 L886.0 718.7 L888.0 721.3 L890.0 723.8 L892.0 726.2 L894.0 728.5 L896.0 730.6 L898.0 732.6 L900.0 734.6 L902.0 736.6 L904.0 738.6 L906.0 740.8 L908.0 743.1 L910.0 745.6 L912.0 748.2 L914.0 751.0 L916.0 753.7 L918.0 756.4 L920.0 758.9 L922.0 761.3 L924.0 763.4 L926.0 765.3 L928.0 767.1 L930.0 768.8 L932.0 770.5 L934.0 772.2 L936.0 773.9 L938.0 775.6 L940.0 777.5 L942.0 779.5 L944.0 781.6 L946.0 783.8 L948.0 786.1 L950.0 788.4 L952.0 790.9 L954.0 793.4 L956.0 795.9 L958.0 798.5 L960.0 801.1 L962.0 803.7 L964.0 806.3 L966.0 808.8 L968.0 811.4 L970.0 813.9 L972.0 816.3 L974.0 818.8 L976.0 821.2 L978.0 823.7 L980.0 826.1 L982.0 828.6 L984.0 831.0 L986.0 833.4 L988.0 835.8 L990.0 838.2 L992.0 840.6 L994.0 842.9 L996.0 845.3 L998.0 847.6 L1000.0 849.8 L1002.0 852.1 L1004.0 854.3 L1006.0 856.5 L1008.0 858.7 L1010.0 860.9 L1012.0 863.0 L1014.0 865.2 L1016.0 867.3 L1018.0 869.4 L1020.0 871.4 L1022.0 873.5 L1024.0 875.5 L1026.0 877.5 L1028.0 879.5 L1030.0 881.5 L1032.0 883.4 L1034.0 885.4 L1036.0 887.3 L1038.0 889.2 L1040.0 891.1 L1042.0 892.9 L1044.0 894.8 L1046.0 896.6 L1048.0 898.4 L1050.0 900.2 L1052.0 901.9 L1054.0 903.7 L1056.0 905.4 L1058.0 907.1 L1060.0 908.7 L1062.0 910.4 L1064.0 912.0 L1066.0 913.5 L1068.0 915.1 L1070.0 916.6 L1072.0 918.1 L1074.0 919.6 L1076.0 921.1 L1078.0 922.6 L1080.0 924.1 L1082.0 925.6 L1084.0 927.2 L1086.0 928.8 L1088.0 930.5 L1090.0 932.1 L1092.0 933.8 L1094.0 935.5 L1096.0 937.2 L1098.0 938.9 L1100.0 940.6 L1102.0 942.3 L1104.0 944.0 L1106.0 945.7 L1108.0 947.4 L1110.0 949.1 L1112.0 950.7 L1114.0 952.4 L1116.0 954.0 L1118.0 955.7 L1120.0 957.3 L1122.0 958.9 L1124.0 960.6 L1126.0 962.2 L1128.0 963.8 L1130.0 965.4 L1132.0 967.0 L1134.0 968.5 L1136.0 970.0 L1138.0 971.5 L1140.0 973.0 L1142.0 974.4 L1144.0 975.8 L1146.0 977.2 L1148.0 978.6 L1150.0 979.9 L1152.0 981.3 L1154.0 982.6 L1156.0 983.9 L1158.0 985.1 L1160.0 986.4 L1162.0 987.7 L1164.0 988.9 L1166.0 990.2 L1168.0 991.4 L1170.0 992.7 L1172.0 993.9 L1174.0 995.2 L1176.0 996.4 L1178.0 997.7 L1180.0 998.9 L1182.0 1000.1 L1184.0 1001.4 L1186.0 1002.6 L1188.0 1003.8 L1190.0 1005.0 L1192.0 1006.2 L1194.0 1007.3 L1196.0 1008.5 L1198.0 1009.6 L1200.0 1010.7 L1202.0 1011.8 L1204.0 1012.9 L1206.0 1014.0 L1208.0 1015.0 L1210.0 1016.0 L1212.0 1017.1 L1214.0 1018.1 L1216.0 1019.1 L1218.0 1020.0 L1220.0 1021.0 L1222.0 1022.0 L1224.0 1023.0 L1226.0 1024.0 L1228.0 1024.9 L1230.0 1025.9 L1232.0 1026.9 L1234.0 1027.9 L1236.0 1028.9 L1238.0 1029.9 L1240.0 1030.9 L1242.0 1031.9 L1244.0 1032.9 L1246.0 1033.9 L1248.0 1034.8 L1250.0 1035.8 L1252.0 1036.8 L1254.0 1037.8 L1256.0 1038.7 L1258.0 1039.7 L1260.0 1040.7 L1262.0 1041.6 L1264.0 1042.6 L1266.0 1043.6 L1268.0 1044.6 L1270.0 1045.6 L1272.0 1046.6 L1274.0 1047.6 L1276.0 1048.6 L1278.0 1049.6 L1280.0 1050.5 L1282.0 1051.4 L1284.0 1052.3 L1286.0 1053.1 L1288.0 1053.9 L1290.0 1054.5 L1292.0 1055.1 L1294.0 1055.7 L1296.0 1056.1 L1298.0 1056.5 L1300.0 1056.9 L1302.0 1057.3 L1304.0 1057.7 L1306.0 1058.3 L1308.0 1058.9 L1310.0 1059.6 L1312.0 1060.5 L1314.0 1061.6 L1316.0 1062.7 L1318.0 1063.6 L1320.0 1064.2 L1322.0 1064.4 L1324.0 1063.6 L1326.0 1062.4 L1328.0 1061.1 L1330.0 1060.4 L1332.0 1060.6 L1334.0 1061.9 L1336.0 1063.9 L1338.0 1065.9 L1340.0 1067.5 L1342.0 1069.0 L1344.0 1070.5 L1346.0 1071.9 L1348.0 1073.4 L1350.0 1074.6 L1352.0 1075.6 L1354.0 1076.5 L1356.0 1077.3 L1358.0 1078.0 L1360.0 1078.6 L1362.0 1079.1 L1364.0 1079.6 L1366.0 1080.0 L1368.0 1080.4 L1370.0 1080.7 L1372.0 1081.0 L1374.0 1081.4 L1376.0 1081.7 L1378.0 1082.0 L1380.0 1082.3 L1382.0 1082.6 L1384.0 1083.0 L1386.0 1083.3 L1388.0 1083.6 L1390.0 1083.9 L1392.0 1084.3 L1394.0 1084.6 L1396.0 1084.8 L1398.0 1085.1 L1400.0 1085.3 L1402.0 1085.6 L1404.0 1085.8 L1406.0 1085.9 L1408.0 1086.0 L1410.0 1086.1 L1412.0 1086.2 L1414.0 1086.4 L1416.0 1086.6 L1418.0 1087.0 L1420.0 1088.4 L1422.0 1090.4 L1424.0 1092.6 L1426.0 1094.6 L1428.0 1096.9 L1430.0 1099.3 L1432.0 1101.2 L1434.0 1102.3 L1436.0 1103.1 L1438.0 1103.7 L1440.0 1104.3 L1442.0 1104.7 L1444.0 1105.2 L1446.0 1105.6 L1448.0 1106.0 L1450.0 1106.4 L1452.0 1106.8 L1454.0 1107.2 L1456.0 1107.6 L1458.0 1108.1 L1460.0 1108.5 L1462.0 1109.0 L1464.0 1109.4 L1466.0 1109.8 L1468.0 1110.2 L1470.0 1110.7 L1472.0 1111.1 L1474.0 1111.4 L1476.0 1111.8 L1478.0 1112.2 L1480.0 1112.5 L1482.0 1112.8 L1484.0 1113.2 L1486.0 1113.5 L1488.0 1113.8 L1490.0 1114.0 L1492.0 1114.3 L1494.0 1114.6 L1496.0 1114.9 L1498.0 1115.1 L1500.0 1115.4 L1502.0 1115.6 L1504.0 1115.8 L1506.0 1116.1 L1508.0 1116.3 L1510.0 1116.5 L1512.0 1116.7 L1514.0 1116.9 L1516.0 1117.0 L1518.0 1117.2"/>
<path class="curve" stroke="#37AD6B" d="M124.0 1116.0 L126.0 1118.6 L128.0 1121.0 L130.0 1123.0 L132.0 1124.8 L134.0 1126.3 L136.0 1127.7 L138.0 1129.0 L140.0 1130.2 L142.0 1131.3 L144.0 1132.2 L146.0 1132.9 L148.0 1133.5 L150.0 1134.0 L152.0 1134.4 L154.0 1134.7 L156.0 1134.9 L158.0 1135.0 L160.0 1135.0 L162.0 1134.9 L164.0 1134.8 L166.0 1134.7 L168.0 1134.6 L170.0 1134.4 L172.0 1134.2 L174.0 1133.8 L176.0 1133.3 L178.0 1132.7 L180.0 1132.0 L182.0 1131.2 L184.0 1130.3 L186.0 1129.3 L188.0 1128.0 L190.0 1126.7 L192.0 1125.2 L194.0 1123.5 L196.0 1121.9 L198.0 1120.0 L200.0 1118.1 L202.0 1115.9 L204.0 1113.7 L206.0 1111.3 L208.0 1108.8 L210.0 1106.2 L212.0 1103.5 L214.0 1100.7 L216.0 1097.7 L218.0 1094.6 L220.0 1091.3 L222.0 1087.9 L224.0 1084.2 L226.0 1080.4 L228.0 1076.4 L230.0 1072.2 L232.0 1068.0 L234.0 1063.6 L236.0 1059.1 L238.0 1054.4 L240.0 1049.6 L242.0 1044.7 L244.0 1039.8 L246.0 1034.9 L248.0 1030.2 L250.0 1025.5 L252.0 1020.8 L254.0 1016.2 L256.0 1011.5 L258.0 1006.9 L260.0 1002.1 L262.0 997.3 L264.0 992.5 L266.0 987.6 L268.0 982.7 L270.0 977.8 L272.0 972.8 L274.0 967.8 L276.0 962.8 L278.0 957.8 L280.0 952.8 L282.0 947.8 L284.0 942.8 L286.0 937.8 L288.0 932.8 L290.0 927.9 L292.0 923.0 L294.0 918.1 L296.0 913.1 L298.0 908.1 L300.0 902.9 L302.0 897.6 L304.0 892.4 L306.0 887.1 L308.0 881.8 L310.0 876.7 L312.0 871.6 L314.0 866.6 L316.0 861.8 L318.0 857.2 L320.0 852.8 L322.0 848.7 L324.0 844.9 L326.0 841.4 L328.0 838.3 L330.0 835.1 L332.0 831.5 L334.0 827.3 L336.0 822.9 L338.0 818.4 L340.0 813.7 L342.0 809.2 L344.0 805.0 L346.0 800.2 L348.0 795.1 L350.0 791.2 L352.0 790.0 L354.0 790.9 L356.0 792.0 L358.0 793.0 L360.0 793.9 L362.0 794.3 L364.0 793.6 L366.0 792.1 L368.0 790.0 L370.0 787.6 L372.0 785.3 L374.0 782.7 L376.0 779.7 L378.0 776.3 L380.0 772.8 L382.0 769.2 L384.0 765.5 L386.0 762.1 L388.0 758.7 L390.0 755.5 L392.0 752.2 L394.0 749.0 L396.0 745.8 L398.0 742.6 L400.0 739.5 L402.0 736.5 L404.0 733.6 L406.0 730.7 L408.0 727.8 L410.0 724.9 L412.0 722.0 L414.0 719.2 L416.0 716.6 L418.0 714.1 L420.0 711.9 L422.0 709.9 L424.0 708.1 L426.0 706.5 L428.0 705.0 L430.0 703.6 L432.0 702.3 L434.0 701.1 L436.0 699.9 L438.0 698.9 L440.0 698.0 L442.0 697.2 L444.0 696.3 L446.0 695.5 L448.0 694.7 L450.0 694.0 L452.0 693.3 L454.0 692.8 L456.0 692.3 L458.0 692.0 L460.0 691.9 L462.0 691.9 L464.0 692.0 L466.0 692.1 L468.0 692.4 L470.0 692.7 L472.0 693.1 L474.0 693.5 L476.0 693.9 L478.0 694.4 L480.0 694.9 L482.0 695.5 L484.0 696.1 L486.0 696.9 L488.0 697.9 L490.0 698.9 L492.0 700.0 L494.0 701.1 L496.0 702.3 L498.0 703.3 L500.0 704.4 L502.0 705.4 L504.0 706.3 L506.0 707.3 L508.0 708.3 L510.0 709.2 L512.0 710.2 L514.0 711.1 L516.0 712.1 L518.0 713.2 L520.0 714.2 L522.0 715.3 L524.0 716.5 L526.0 717.7 L528.0 718.9 L530.0 720.2 L532.0 721.5 L534.0 722.9 L536.0 724.3 L538.0 725.8 L540.0 727.3 L542.0 728.9 L544.0 730.5 L546.0 732.2 L548.0 733.9 L550.0 735.7 L552.0 737.6 L554.0 739.8 L556.0 742.1 L558.0 744.5 L560.0 746.8 L562.0 748.9 L564.0 750.8 L566.0 752.6 L568.0 754.3 L570.0 756.0 L572.0 757.6 L574.0 759.2 L576.0 760.7 L578.0 762.1 L580.0 763.4 L582.0 764.7 L584.0 765.8 L586.0 766.9 L588.0 767.8 L590.0 768.6 L592.0 769.2 L594.0 769.7 L596.0 770.2 L598.0 770.8 L600.0 771.4 L602.0 772.3 L604.0 773.5 L606.0 775.1 L608.0 776.9 L610.0 778.6 L612.0 780.2 L614.0 781.3 L616.0 782.1 L618.0 782.8 L620.0 783.4 L622.0 784.0 L624.0 784.5 L626.0 785.0 L628.0 785.4 L630.0 785.7 L632.0 785.9 L634.0 786.0 L636.0 786.0 L638.0 785.9 L640.0 785.8 L642.0 785.6 L644.0 785.5 L646.0 785.3 L648.0 785.1 L650.0 784.9 L652.0 784.7 L654.0 784.6 L656.0 784.5 L658.0 784.4 L660.0 784.3 L662.0 784.2 L664.0 784.1 L666.0 784.0 L668.0 783.9 L670.0 783.7 L672.0 783.4 L674.0 782.8 L676.0 781.8 L678.0 780.6 L680.0 779.9 L682.0 780.1 L684.0 781.0 L686.0 782.0 L688.0 782.5 L690.0 782.7 L692.0 782.7 L694.0 782.7 L696.0 782.7 L698.0 782.7 L700.0 782.7 L702.0 783.0 L704.0 783.6 L706.0 784.7 L708.0 786.0 L710.0 787.3 L712.0 788.5 L714.0 789.4 L716.0 790.1 L718.0 790.6 L720.0 791.1 L722.0 791.6 L724.0 792.1 L726.0 792.7 L728.0 793.4 L730.0 794.3 L732.0 795.4 L734.0 796.8 L736.0 798.4 L738.0 800.0 L740.0 801.7 L742.0 803.4 L744.0 805.0 L746.0 806.6 L748.0 808.3 L750.0 810.0 L752.0 811.7 L754.0 813.4 L756.0 815.1 L758.0 816.7 L760.0 818.3 L762.0 819.7 L764.0 821.1 L766.0 822.4 L768.0 823.6 L770.0 824.7 L772.0 825.8 L774.0 826.8 L776.0 827.9 L778.0 828.9 L780.0 830.0 L782.0 831.1 L784.0 832.3 L786.0 833.7 L788.0 835.1 L790.0 836.7 L792.0 838.5 L794.0 840.3 L796.0 842.2 L798.0 844.2 L800.0 846.1 L802.0 847.9 L804.0 849.7 L806.0 851.4 L808.0 853.0 L810.0 854.5 L812.0 856.0 L814.0 857.4 L816.0 858.8 L818.0 860.2 L820.0 861.5 L822.0 862.9 L824.0 864.2 L826.0 865.6 L828.0 867.0 L830.0 868.4 L832.0 869.9 L834.0 871.4 L836.0 873.0 L838.0 874.6 L840.0 876.2 L842.0 877.8 L844.0 879.4 L846.0 880.9 L848.0 882.4 L850.0 883.7 L852.0 884.9 L854.0 886.0 L856.0 887.0 L858.0 887.8 L860.0 888.5 L862.0 889.2 L864.0 889.9 L866.0 890.7 L868.0 891.7 L870.0 892.9 L872.0 894.3 L874.0 895.8 L876.0 897.6 L878.0 899.3 L880.0 901.0 L882.0 902.7 L884.0 904.3 L886.0 905.9 L888.0 907.4 L890.0 909.0 L892.0 910.5 L894.0 912.0 L896.0 913.5 L898.0 914.9 L900.0 916.4 L902.0 917.9 L904.0 919.3 L906.0 920.8 L908.0 922.2 L910.0 923.6 L912.0 925.1 L914.0 926.5 L916.0 927.9 L918.0 929.3 L920.0 930.7 L922.0 932.1 L924.0 933.5 L926.0 934.9 L928.0 936.2 L930.0 937.6 L932.0 939.0 L934.0 940.4 L936.0 941.7 L938.0 943.1 L940.0 944.5 L942.0 945.9 L944.0 947.3 L946.0 948.6 L948.0 950.0 L950.0 951.4 L952.0 952.8 L954.0 954.3 L956.0 955.7 L958.0 957.1 L960.0 958.5 L962.0 959.9 L964.0 961.2 L966.0 962.6 L968.0 964.0 L970.0 965.4 L972.0 966.7 L974.0 968.1 L976.0 969.4 L978.0 970.7 L980.0 972.0 L982.0 973.3 L984.0 974.5 L986.0 975.8 L988.0 977.0 L990.0 978.3 L992.0 979.5 L994.0 980.7 L996.0 982.0 L998.0 983.2 L1000.0 984.4 L1002.0 985.6 L1004.0 986.9 L1006.0 988.1 L1008.0 989.4 L1010.0 990.6 L1012.0 991.9 L1014.0 993.1 L1016.0 994.4 L1018.0 995.7 L1020.0 996.9 L1022.0 998.2 L1024.0 999.5 L1026.0 1000.7 L1028.0 1002.0 L1030.0 1003.2 L1032.0 1004.5 L1034.0 1005.7 L1036.0 1006.9 L1038.0 1008.1 L1040.0 1009.4 L1042.0 1010.6 L1044.0 1011.8 L1046.0 1013.0 L1048.0 1014.3 L1050.0 1015.5 L1052.0 1016.7 L1054.0 1017.9 L1056.0 1019.0 L1058.0 1020.2 L1060.0 1021.3 L1062.0 1022.4 L1064.0 1023.5 L1066.0 1024.6 L1068.0 1025.6 L1070.0 1026.6 L1072.0 1027.5 L1074.0 1028.5 L1076.0 1029.4 L1078.0 1030.3 L1080.0 1031.2 L1082.0 1032.1 L1084.0 1032.9 L1086.0 1033.8 L1088.0 1034.6 L1090.0 1035.4 L1092.0 1036.3 L1094.0 1037.1 L1096.0 1037.9 L1098.0 1038.7 L1100.0 1039.5 L1102.0 1040.3 L1104.0 1041.1 L1106.0 1041.9 L1108.0 1042.7 L1110.0 1043.5 L1112.0 1044.4 L1114.0 1045.2 L1116.0 1046.0 L1118.0 1046.9 L1120.0 1047.7 L1122.0 1048.5 L1124.0 1049.4 L1126.0 1050.2 L1128.0 1051.0 L1130.0 1051.8 L1132.0 1052.6 L1134.0 1053.4 L1136.0 1054.1 L1138.0 1054.8 L1140.0 1055.5 L1142.0 1056.2 L1144.0 1056.9 L1146.0 1057.5 L1148.0 1058.1 L1150.0 1058.7 L1152.0 1059.3 L1154.0 1059.9 L1156.0 1060.5 L1158.0 1061.1 L1160.0 1061.6 L1162.0 1062.2 L1164.0 1062.8 L1166.0 1063.4 L1168.0 1064.0 L1170.0 1064.6 L1172.0 1065.3 L1174.0 1065.9 L1176.0 1066.6 L1178.0 1067.3 L1180.0 1068.0 L1182.0 1068.7 L1184.0 1069.5 L1186.0 1070.2 L1188.0 1070.9 L1190.0 1071.7 L1192.0 1072.4 L1194.0 1073.1 L1196.0 1073.8 L1198.0 1074.5 L1200.0 1075.1 L1202.0 1075.8 L1204.0 1076.4 L1206.0 1077.0 L1208.0 1077.6 L1210.0 1078.2 L1212.0 1078.8 L1214.0 1079.4 L1216.0 1080.0 L1218.0 1080.6 L1220.0 1081.1 L1222.0 1081.7 L1224.0 1082.2 L1226.0 1082.7 L1228.0 1083.2 L1230.0 1083.6 L1232.0 1084.1 L1234.0 1084.5 L1236.0 1084.9 L1238.0 1085.2 L1240.0 1085.6 L1242.0 1086.0 L1244.0 1086.4 L1246.0 1086.8 L1248.0 1087.3 L1250.0 1087.8 L1252.0 1088.4 L1254.0 1089.1 L1256.0 1089.9 L1258.0 1090.7 L1260.0 1091.6 L1262.0 1092.5 L1264.0 1093.3 L1266.0 1094.1 L1268.0 1094.9 L1270.0 1095.5 L1272.0 1096.1 L1274.0 1096.7 L1276.0 1097.1 L1278.0 1097.6 L1280.0 1098.0 L1282.0 1098.4 L1284.0 1098.8 L1286.0 1099.1 L1288.0 1099.4 L1290.0 1099.7 L1292.0 1100.0 L1294.0 1100.2 L1296.0 1100.4 L1298.0 1100.6 L1300.0 1100.8 L1302.0 1101.0 L1304.0 1101.3 L1306.0 1101.6 L1308.0 1101.9 L1310.0 1102.3 L1312.0 1102.8 L1314.0 1103.4 L1316.0 1104.1 L1318.0 1104.6 L1320.0 1104.9 L1322.0 1105.0 L1324.0 1104.3 L1326.0 1103.0 L1328.0 1101.8 L1330.0 1101.0 L1332.0 1101.2 L1334.0 1102.2 L1336.0 1103.5 L1338.0 1104.9 L1340.0 1106.1 L1342.0 1107.1 L1344.0 1108.0 L1346.0 1109.0 L1348.0 1109.8 L1350.0 1110.5 L1352.0 1111.0 L1354.0 1111.4 L1356.0 1111.8 L1358.0 1112.2 L1360.0 1112.6 L1362.0 1112.9 L1364.0 1113.2 L1366.0 1113.4 L1368.0 1113.7 L1370.0 1113.9 L1372.0 1114.2 L1374.0 1114.4 L1376.0 1114.7 L1378.0 1114.9 L1380.0 1115.2 L1382.0 1115.4 L1384.0 1115.6 L1386.0 1115.8 L1388.0 1115.9 L1390.0 1116.0 L1392.0 1116.1 L1394.0 1116.1 L1396.0 1116.1 L1398.0 1116.1 L1400.0 1116.1 L1402.0 1116.0 L1404.0 1116.0 L1406.0 1115.9 L1408.0 1115.9 L1410.0 1115.8 L1412.0 1115.8 L1414.0 1115.9 L1416.0 1116.2 L1418.0 1116.9 L1420.0 1117.8 L1422.0 1118.8 L1424.0 1119.8 L1426.0 1121.5 L1428.0 1123.3 L1430.0 1124.8 L1432.0 1125.6 L1434.0 1126.0 L1436.0 1126.4 L1438.0 1126.7 L1440.0 1127.0 L1442.0 1127.2 L1444.0 1127.4 L1446.0 1127.6 L1448.0 1127.8 L1450.0 1128.0 L1452.0 1128.2 L1454.0 1128.5 L1456.0 1128.7 L1458.0 1128.9 L1460.0 1129.2 L1462.0 1129.4 L1464.0 1129.6 L1466.0 1129.8 L1468.0 1130.1 L1470.0 1130.3 L1472.0 1130.5 L1474.0 1130.7 L1476.0 1130.9 L1478.0 1131.0 L1480.0 1131.2 L1482.0 1131.3 L1484.0 1131.5 L1486.0 1131.6 L1488.0 1131.7 L1490.0 1131.8 L1492.0 1131.9 L1494.0 1132.1 L1496.0 1132.2 L1498.0 1132.3 L1500.0 1132.4 L1502.0 1132.4 L1504.0 1132.5 L1506.0 1132.6 L1508.0 1132.7 L1510.0 1132.7 L1512.0 1132.8 L1514.0 1132.8 L1516.0 1132.9 L1518.0 1132.9"/>
<path class="curve" stroke="#B177DE" d="M124.0 1116.0 L126.0 1118.8 L128.0 1121.2 L130.0 1123.5 L132.0 1125.4 L134.0 1127.1 L136.0 1128.6 L138.0 1130.0 L140.0 1131.3 L142.0 1132.5 L144.0 1133.6 L146.0 1134.5 L148.0 1135.2 L150.0 1135.8 L152.0 1136.3 L154.0 1136.8 L156.0 1137.1 L158.0 1137.3 L160.0 1137.4 L162.0 1137.4 L164.0 1137.5 L166.0 1137.6 L168.0 1137.6 L170.0 1137.6 L172.0 1137.6 L174.0 1137.5 L176.0 1137.3 L178.0 1137.1 L180.0 1136.8 L182.0 1136.5 L184.0 1136.2 L186.0 1135.7 L188.0 1135.2 L190.0 1134.5 L192.0 1133.7 L194.0 1132.8 L196.0 1131.9 L198.0 1130.9 L200.0 1129.6 L202.0 1128.3 L204.0 1126.8 L206.0 1125.2 L208.0 1123.6 L210.0 1122.0 L212.0 1120.4 L214.0 1118.7 L216.0 1116.9 L218.0 1115.0 L220.0 1113.1 L222.0 1111.0 L224.0 1108.9 L226.0 1106.6 L228.0 1104.2 L230.0 1101.7 L232.0 1099.1 L234.0 1096.5 L236.0 1093.8 L238.0 1091.1 L240.0 1088.2 L242.0 1085.4 L244.0 1082.5 L246.0 1079.7 L248.0 1077.0 L250.0 1074.4 L252.0 1071.8 L254.0 1069.3 L256.0 1066.7 L258.0 1064.1 L260.0 1061.4 L262.0 1058.7 L264.0 1056.0 L266.0 1053.2 L268.0 1050.4 L270.0 1047.5 L272.0 1044.7 L274.0 1041.8 L276.0 1038.8 L278.0 1035.9 L280.0 1032.9 L282.0 1029.8 L284.0 1026.8 L286.0 1023.7 L288.0 1020.6 L290.0 1017.5 L292.0 1014.3 L294.0 1011.2 L296.0 1008.0 L298.0 1004.8 L300.0 1001.7 L302.0 998.5 L304.0 995.3 L306.0 992.1 L308.0 988.9 L310.0 985.7 L312.0 982.6 L314.0 979.7 L316.0 976.9 L318.0 974.2 L320.0 971.6 L322.0 969.1 L324.0 966.6 L326.0 964.0 L328.0 961.4 L330.0 958.8 L332.0 956.1 L334.0 953.4 L336.0 950.8 L338.0 948.3 L340.0 945.9 L342.0 943.4 L344.0 940.7 L346.0 938.2 L348.0 936.2 L350.0 934.8 L352.0 934.3 L354.0 933.9 L356.0 933.7 L358.0 933.5 L360.0 933.4 L362.0 933.1 L364.0 932.8 L366.0 932.2 L368.0 930.5 L370.0 928.2 L372.0 925.3 L374.0 922.3 L376.0 919.4 L378.0 916.8 L380.0 914.4 L382.0 911.9 L384.0 909.5 L386.0 907.0 L388.0 904.5 L390.0 902.1 L392.0 899.7 L394.0 897.4 L396.0 895.1 L398.0 892.9 L400.0 890.7 L402.0 888.6 L404.0 886.4 L406.0 884.3 L408.0 882.4 L410.0 880.7 L412.0 879.3 L414.0 878.2 L416.0 877.3 L418.0 876.6 L420.0 875.9 L422.0 875.2 L424.0 874.3 L426.0 873.1 L428.0 871.3 L430.0 869.1 L432.0 866.8 L434.0 864.8 L436.0 863.3 L438.0 862.1 L440.0 861.1 L442.0 860.2 L444.0 859.4 L446.0 858.7 L448.0 858.0 L450.0 857.4 L452.0 856.8 L454.0 856.3 L456.0 855.8 L458.0 855.4 L460.0 855.0 L462.0 854.6 L464.0 854.2 L466.0 853.9 L468.0 853.6 L470.0 853.2 L472.0 852.9 L474.0 852.7 L476.0 852.4 L478.0 852.2 L480.0 852.1 L482.0 852.2 L484.0 852.3 L486.0 852.5 L488.0 852.9 L490.0 853.3 L492.0 853.8 L494.0 854.4 L496.0 854.9 L498.0 855.5 L500.0 856.0 L502.0 856.6 L504.0 857.3 L506.0 858.1 L508.0 858.9 L510.0 859.6 L512.0 860.3 L514.0 860.9 L516.0 861.2 L518.0 861.4 L520.0 861.4 L522.0 861.3 L524.0 861.3 L526.0 861.2 L528.0 861.1 L530.0 861.0 L532.0 861.0 L534.0 860.9 L536.0 861.0 L538.0 861.4 L540.0 862.1 L542.0 863.1 L544.0 864.3 L546.0 865.6 L548.0 866.9 L550.0 868.1 L552.0 869.3 L554.0 870.4 L556.0 871.6 L558.0 872.8 L560.0 874.0 L562.0 875.2 L564.0 876.3 L566.0 877.4 L568.0 878.5 L570.0 879.4 L572.0 880.3 L574.0 881.1 L576.0 881.8 L578.0 882.4 L580.0 883.0 L582.0 883.6 L584.0 884.2 L586.0 884.8 L588.0 885.4 L590.0 886.1 L592.0 886.8 L594.0 887.6 L596.0 888.6 L598.0 889.6 L600.0 890.8 L602.0 892.0 L604.0 893.3 L606.0 894.7 L608.0 896.0 L610.0 897.4 L612.0 898.7 L614.0 900.0 L616.0 901.4 L618.0 902.7 L620.0 904.2 L622.0 905.7 L624.0 907.2 L626.0 908.6 L628.0 910.1 L630.0 911.5 L632.0 912.8 L634.0 914.0 L636.0 915.1 L638.0 916.0 L640.0 916.8 L642.0 917.4 L644.0 917.9 L646.0 918.3 L648.0 918.7 L650.0 919.1 L652.0 919.6 L654.0 920.3 L656.0 921.3 L658.0 922.8 L660.0 924.7 L662.0 926.7 L664.0 928.5 L666.0 929.9 L668.0 931.0 L670.0 931.9 L672.0 932.7 L674.0 933.5 L676.0 934.3 L678.0 935.0 L680.0 935.8 L682.0 936.7 L684.0 937.7 L686.0 938.8 L688.0 940.0 L690.0 941.2 L692.0 942.5 L694.0 943.7 L696.0 945.1 L698.0 946.4 L700.0 947.7 L702.0 949.0 L704.0 950.4 L706.0 951.7 L708.0 953.1 L710.0 954.6 L712.0 956.0 L714.0 957.4 L716.0 958.8 L718.0 960.2 L720.0 961.6 L722.0 962.8 L724.0 964.0 L726.0 965.1 L728.0 966.2 L730.0 967.2 L732.0 968.2 L734.0 969.1 L736.0 970.1 L738.0 971.0 L740.0 972.0 L742.0 973.0 L744.0 974.0 L746.0 975.1 L748.0 976.2 L750.0 977.5 L752.0 978.7 L754.0 980.0 L756.0 981.4 L758.0 982.7 L760.0 984.0 L762.0 985.2 L764.0 986.3 L766.0 987.4 L768.0 988.4 L770.0 989.3 L772.0 990.2 L774.0 991.0 L776.0 991.8 L778.0 992.6 L780.0 993.3 L782.0 994.1 L784.0 994.8 L786.0 995.6 L788.0 996.4 L790.0 997.3 L792.0 998.3 L794.0 999.3 L796.0 1000.4 L798.0 1001.5 L800.0 1002.8 L802.0 1004.0 L804.0 1005.3 L806.0 1006.6 L808.0 1008.0 L810.0 1009.2 L812.0 1010.5 L814.0 1011.7 L816.0 1012.8 L818.0 1013.9 L820.0 1015.0 L822.0 1016.0 L824.0 1016.9 L826.0 1017.8 L828.0 1018.7 L830.0 1019.6 L832.0 1020.5 L834.0 1021.4 L836.0 1022.2 L838.0 1023.1 L840.0 1024.0 L842.0 1024.8 L844.0 1025.7 L846.0 1026.6 L848.0 1027.5 L850.0 1028.4 L852.0 1029.3 L854.0 1030.2 L856.0 1031.1 L858.0 1032.0 L860.0 1032.9 L862.0 1033.8 L864.0 1034.7 L866.0 1035.7 L868.0 1036.6 L870.0 1037.5 L872.0 1038.5 L874.0 1039.4 L876.0 1040.3 L878.0 1041.3 L880.0 1042.2 L882.0 1043.1 L884.0 1044.0 L886.0 1044.8 L888.0 1045.7 L890.0 1046.6 L892.0 1047.4 L894.0 1048.3 L896.0 1049.1 L898.0 1049.9 L900.0 1050.7 L902.0 1051.6 L904.0 1052.4 L906.0 1053.1 L908.0 1053.9 L910.0 1054.7 L912.0 1055.4 L914.0 1056.2 L916.0 1056.9 L918.0 1057.6 L920.0 1058.4 L922.0 1059.1 L924.0 1059.8 L926.0 1060.5 L928.0 1061.1 L930.0 1061.8 L932.0 1062.5 L934.0 1063.2 L936.0 1063.8 L938.0 1064.5 L940.0 1065.2 L942.0 1065.8 L944.0 1066.5 L946.0 1067.1 L948.0 1067.8 L950.0 1068.4 L952.0 1069.0 L954.0 1069.7 L956.0 1070.3 L958.0 1071.0 L960.0 1071.6 L962.0 1072.2 L964.0 1072.8 L966.0 1073.4 L968.0 1074.0 L970.0 1074.6 L972.0 1075.2 L974.0 1075.8 L976.0 1076.3 L978.0 1076.9 L980.0 1077.4 L982.0 1077.9 L984.0 1078.4 L986.0 1078.9 L988.0 1079.4 L990.0 1079.9 L992.0 1080.4 L994.0 1080.8 L996.0 1081.3 L998.0 1081.8 L1000.0 1082.3 L1002.0 1082.8 L1004.0 1083.3 L1006.0 1083.8 L1008.0 1084.4 L1010.0 1085.0 L1012.0 1085.5 L1014.0 1086.1 L1016.0 1086.8 L1018.0 1087.4 L1020.0 1088.0 L1022.0 1088.6 L1024.0 1089.3 L1026.0 1089.9 L1028.0 1090.5 L1030.0 1091.0 L1032.0 1091.6 L1034.0 1092.1 L1036.0 1092.6 L1038.0 1093.0 L1040.0 1093.4 L1042.0 1093.8 L1044.0 1094.2 L1046.0 1094.5 L1048.0 1094.9 L1050.0 1095.2 L1052.0 1095.5 L1054.0 1095.8 L1056.0 1096.1 L1058.0 1096.4 L1060.0 1096.8 L1062.0 1097.1 L1064.0 1097.4 L1066.0 1097.8 L1068.0 1098.1 L1070.0 1098.5 L1072.0 1098.9 L1074.0 1099.3 L1076.0 1099.7 L1078.0 1100.1 L1080.0 1100.5 L1082.0 1100.9 L1084.0 1101.4 L1086.0 1101.8 L1088.0 1102.2 L1090.0 1102.6 L1092.0 1103.1 L1094.0 1103.5 L1096.0 1103.9 L1098.0 1104.3 L1100.0 1104.7 L1102.0 1105.0 L1104.0 1105.4 L1106.0 1105.8 L1108.0 1106.2 L1110.0 1106.5 L1112.0 1106.9 L1114.0 1107.3 L1116.0 1107.6 L1118.0 1108.0 L1120.0 1108.3 L1122.0 1108.7 L1124.0 1109.0 L1126.0 1109.4 L1128.0 1109.7 L1130.0 1110.1 L1132.0 1110.4 L1134.0 1110.8 L1136.0 1111.2 L1138.0 1111.5 L1140.0 1111.9 L1142.0 1112.3 L1144.0 1112.6 L1146.0 1113.0 L1148.0 1113.4 L1150.0 1113.8 L1152.0 1114.2 L1154.0 1114.5 L1156.0 1114.9 L1158.0 1115.2 L1160.0 1115.6 L1162.0 1115.9 L1164.0 1116.2 L1166.0 1116.4 L1168.0 1116.7 L1170.0 1116.9 L1172.0 1117.1 L1174.0 1117.3 L1176.0 1117.5 L1178.0 1117.7 L1180.0 1117.8 L1182.0 1117.9 L1184.0 1118.1 L1186.0 1118.2 L1188.0 1118.3 L1190.0 1118.4 L1192.0 1118.5 L1194.0 1118.6 L1196.0 1118.7 L1198.0 1118.8 L1200.0 1119.0 L1202.0 1119.1 L1204.0 1119.2 L1206.0 1119.4 L1208.0 1119.5 L1210.0 1119.7 L1212.0 1120.0 L1214.0 1120.2 L1216.0 1120.5 L1218.0 1120.8 L1220.0 1121.2 L1222.0 1121.5 L1224.0 1121.7 L1226.0 1121.9 L1228.0 1122.1 L1230.0 1122.2 L1232.0 1122.3 L1234.0 1122.3 L1236.0 1122.3 L1238.0 1122.3 L1240.0 1122.3 L1242.0 1122.3 L1244.0 1122.3 L1246.0 1122.3 L1248.0 1122.4 L1250.0 1122.5 L1252.0 1122.7 L1254.0 1122.9 L1256.0 1123.3 L1258.0 1123.8 L1260.0 1124.4 L1262.0 1125.0 L1264.0 1125.6 L1266.0 1126.2 L1268.0 1126.7 L1270.0 1127.1 L1272.0 1127.5 L1274.0 1127.8 L1276.0 1128.1 L1278.0 1128.4 L1280.0 1128.6 L1282.0 1128.8 L1284.0 1129.0 L1286.0 1129.1 L1288.0 1129.2 L1290.0 1129.2 L1292.0 1129.2 L1294.0 1129.0 L1296.0 1128.8 L1298.0 1128.6 L1300.0 1128.3 L1302.0 1128.0 L1304.0 1127.8 L1306.0 1127.7 L1308.0 1127.7 L1310.0 1127.8 L1312.0 1128.0 L1314.0 1128.3 L1316.0 1128.7 L1318.0 1129.1 L1320.0 1129.3 L1322.0 1129.3 L1324.0 1128.3 L1326.0 1126.4 L1328.0 1124.5 L1330.0 1123.4 L1332.0 1123.6 L1334.0 1124.9 L1336.0 1126.8 L1338.0 1128.9 L1340.0 1130.6 L1342.0 1131.6 L1344.0 1132.0 L1346.0 1132.5 L1348.0 1132.9 L1350.0 1133.2 L1352.0 1133.4 L1354.0 1133.7 L1356.0 1133.9 L1358.0 1134.1 L1360.0 1134.3 L1362.0 1134.5 L1364.0 1134.6 L1366.0 1134.8 L1368.0 1134.9 L1370.0 1135.0 L1372.0 1135.1 L1374.0 1135.2 L1376.0 1135.3 L1378.0 1135.4 L1380.0 1135.4 L1382.0 1135.4 L1384.0 1135.4 L1386.0 1135.3 L1388.0 1135.2 L1390.0 1135.0 L1392.0 1134.9 L1394.0 1134.6 L1396.0 1134.4 L1398.0 1134.1 L1400.0 1133.8 L1402.0 1133.5 L1404.0 1133.3 L1406.0 1132.8 L1408.0 1132.3 L1410.0 1131.8 L1412.0 1131.5 L1414.0 1131.6 L1416.0 1132.2 L1418.0 1133.3 L1420.0 1134.6 L1422.0 1135.9 L1424.0 1137.1 L1426.0 1138.6 L1428.0 1140.1 L1430.0 1141.3 L1432.0 1141.7 L1434.0 1141.8 L1436.0 1142.0 L1438.0 1142.1 L1440.0 1142.2 L1442.0 1142.3 L1444.0 1142.3 L1446.0 1142.4 L1448.0 1142.5 L1450.0 1142.5 L1452.0 1142.6 L1454.0 1142.6 L1456.0 1142.7 L1458.0 1142.7 L1460.0 1142.8 L1462.0 1142.8 L1464.0 1142.9 L1466.0 1142.9 L1468.0 1143.0 L1470.0 1143.0 L1472.0 1143.1 L1474.0 1143.1 L1476.0 1143.2 L1478.0 1143.2 L1480.0 1143.2 L1482.0 1143.3 L1484.0 1143.3 L1486.0 1143.4 L1488.0 1143.4 L1490.0 1143.4 L1492.0 1143.5 L1494.0 1143.5 L1496.0 1143.5 L1498.0 1143.6 L1500.0 1143.6 L1502.0 1143.6 L1504.0 1143.6 L1506.0 1143.6 L1508.0 1143.7 L1510.0 1143.7 L1512.0 1143.7 L1514.0 1143.7 L1516.0 1143.7 L1518.0 1143.7"/>
<path class="curve" stroke="#CC9900" d="M125.0 1116.7 L127.0 1120.6 L129.0 1124.2 L131.0 1127.2 L133.0 1129.6 L135.0 1131.5 L137.0 1133.1 L139.0 1134.6 L141.0 1135.8 L143.0 1137.0 L145.0 1138.0 L147.0 1139.0 L149.0 1139.9 L151.0 1140.7 L153.0 1141.5 L155.0 1142.1 L157.0 1142.5 L159.0 1142.8 L161.0 1142.9 L163.0 1143.1 L165.0 1143.2 L167.0 1143.2 L169.0 1143.3 L171.0 1143.3 L173.0 1143.3 L175.0 1143.2 L177.0 1143.1 L179.0 1143.0 L181.0 1142.9 L183.0 1142.7 L185.0 1142.5 L187.0 1142.2 L189.0 1141.8 L191.0 1141.3 L193.0 1140.8 L195.0 1140.4 L197.0 1139.9 L199.0 1139.5 L201.0 1139.0 L203.0 1138.5 L205.0 1138.0 L207.0 1137.5 L209.0 1136.9 L211.0 1136.3 L213.0 1135.5 L215.0 1134.7 L217.0 1133.9 L219.0 1133.0 L221.0 1132.1 L223.0 1131.2 L225.0 1130.3 L227.0 1129.3 L229.0 1128.3 L231.0 1127.3 L233.0 1126.2 L235.0 1125.1 L237.0 1124.0 L239.0 1122.8 L241.0 1121.6 L243.0 1120.3 L245.0 1119.1 L247.0 1117.8 L249.0 1116.4 L251.0 1115.0 L253.0 1113.5 L255.0 1112.0 L257.0 1110.5 L259.0 1109.0 L261.0 1107.4 L263.0 1105.9 L265.0 1104.3 L267.0 1102.8 L269.0 1101.3 L271.0 1099.8 L273.0 1098.3 L275.0 1096.9 L277.0 1095.5 L279.0 1094.0 L281.0 1092.6 L283.0 1091.2 L285.0 1089.8 L287.0 1088.4 L289.0 1087.0 L291.0 1085.6 L293.0 1084.3 L295.0 1082.9 L297.0 1081.6 L299.0 1080.3 L301.0 1079.0 L303.0 1077.7 L305.0 1076.5 L307.0 1075.2 L309.0 1074.0 L311.0 1072.8 L313.0 1071.6 L315.0 1070.3 L317.0 1069.1 L319.0 1067.8 L321.0 1066.6 L323.0 1065.3 L325.0 1063.9 L327.0 1062.6 L329.0 1061.3 L331.0 1060.0 L333.0 1058.7 L335.0 1057.5 L337.0 1056.3 L339.0 1055.0 L341.0 1053.6 L343.0 1052.3 L345.0 1051.0 L347.0 1049.9 L349.0 1049.1 L351.0 1048.6 L353.0 1048.4 L355.0 1048.3 L357.0 1048.2 L359.0 1048.2 L361.0 1048.1 L363.0 1048.0 L365.0 1047.9 L367.0 1047.8 L369.0 1047.1 L371.0 1045.9 L373.0 1044.5 L375.0 1043.2 L377.0 1041.9 L379.0 1040.6 L381.0 1039.3 L383.0 1038.0 L385.0 1036.7 L387.0 1035.4 L389.0 1034.2 L391.0 1033.1 L393.0 1032.1 L395.0 1031.2 L397.0 1030.2 L399.0 1029.3 L401.0 1028.4 L403.0 1027.3 L405.0 1026.1 L407.0 1024.8 L409.0 1023.2 L411.0 1021.6 L413.0 1020.0 L415.0 1018.7 L417.0 1017.6 L419.0 1016.6 L421.0 1015.7 L423.0 1014.9 L425.0 1014.1 L427.0 1013.4 L429.0 1012.7 L431.0 1012.0 L433.0 1011.3 L435.0 1010.7 L437.0 1010.1 L439.0 1009.5 L441.0 1008.9 L443.0 1008.3 L445.0 1007.8 L447.0 1007.3 L449.0 1006.8 L451.0 1006.3 L453.0 1005.9 L455.0 1005.5 L457.0 1005.1 L459.0 1004.7 L461.0 1004.3 L463.0 1003.9 L465.0 1003.5 L467.0 1003.2 L469.0 1002.9 L471.0 1002.5 L473.0 1002.3 L475.0 1002.0 L477.0 1001.8 L479.0 1001.6 L481.0 1001.5 L483.0 1001.4 L485.0 1001.4 L487.0 1001.3 L489.0 1001.3 L491.0 1001.2 L493.0 1001.2 L495.0 1001.1 L497.0 1001.1 L499.0 1001.0 L501.0 1001.0 L503.0 1000.9 L505.0 1000.8 L507.0 1000.7 L509.0 1000.7 L511.0 1000.6 L513.0 1000.5 L515.0 1000.4 L517.0 1000.3 L519.0 1000.2 L521.0 1000.2 L523.0 1000.1 L525.0 1000.0 L527.0 1000.0 L529.0 999.9 L531.0 999.9 L533.0 999.9 L535.0 999.9 L537.0 1000.0 L539.0 1000.2 L541.0 1000.3 L543.0 1000.6 L545.0 1000.8 L547.0 1001.1 L549.0 1001.4 L551.0 1001.7 L553.0 1002.0 L555.0 1002.4 L557.0 1002.7 L559.0 1003.1 L561.0 1003.4 L563.0 1003.7 L565.0 1004.0 L567.0 1004.4 L569.0 1004.7 L571.0 1005.0 L573.0 1005.4 L575.0 1005.7 L577.0 1006.1 L579.0 1006.5 L581.0 1006.9 L583.0 1007.3 L585.0 1007.7 L587.0 1008.1 L589.0 1008.5 L591.0 1008.9 L593.0 1009.4 L595.0 1009.8 L597.0 1010.3 L599.0 1010.8 L601.0 1011.2 L603.0 1011.7 L605.0 1012.3 L607.0 1012.9 L609.0 1013.5 L611.0 1014.1 L613.0 1014.7 L615.0 1015.4 L617.0 1016.0 L619.0 1016.7 L621.0 1017.3 L623.0 1017.9 L625.0 1018.4 L627.0 1019.0 L629.0 1019.5 L631.0 1019.9 L633.0 1020.4 L635.0 1020.8 L637.0 1021.2 L639.0 1021.6 L641.0 1022.0 L643.0 1022.4 L645.0 1022.8 L647.0 1023.2 L649.0 1023.5 L651.0 1023.9 L653.0 1024.3 L655.0 1024.8 L657.0 1025.2 L659.0 1025.6 L661.0 1026.0 L663.0 1026.4 L665.0 1026.8 L667.0 1027.2 L669.0 1027.5 L671.0 1027.9 L673.0 1028.3 L675.0 1028.8 L677.0 1029.2 L679.0 1029.7 L681.0 1030.3 L683.0 1030.9 L685.0 1031.6 L687.0 1032.4 L689.0 1033.5 L691.0 1034.8 L693.0 1036.2 L695.0 1037.5 L697.0 1038.7 L699.0 1039.6 L701.0 1040.4 L703.0 1041.1 L705.0 1041.8 L707.0 1042.4 L709.0 1043.0 L711.0 1043.5 L713.0 1044.1 L715.0 1044.6 L717.0 1045.1 L719.0 1045.6 L721.0 1046.1 L723.0 1046.6 L725.0 1047.2 L727.0 1047.7 L729.0 1048.3 L731.0 1048.9 L733.0 1049.5 L735.0 1050.1 L737.0 1050.7 L739.0 1051.3 L741.0 1051.9 L743.0 1052.5 L745.0 1053.1 L747.0 1053.7 L749.0 1054.3 L751.0 1054.9 L753.0 1055.5 L755.0 1056.1 L757.0 1056.7 L759.0 1057.3 L761.0 1057.9 L763.0 1058.6 L765.0 1059.2 L767.0 1059.8 L769.0 1060.4 L771.0 1061.0 L773.0 1061.6 L775.0 1062.2 L777.0 1062.8 L779.0 1063.3 L781.0 1063.9 L783.0 1064.4 L785.0 1064.9 L787.0 1065.4 L789.0 1065.8 L791.0 1066.3 L793.0 1066.8 L795.0 1067.2 L797.0 1067.7 L799.0 1068.2 L801.0 1068.8 L803.0 1069.3 L805.0 1069.9 L807.0 1070.5 L809.0 1071.2 L811.0 1071.9 L813.0 1072.6 L815.0 1073.3 L817.0 1074.1 L819.0 1074.8 L821.0 1075.5 L823.0 1076.1 L825.0 1076.7 L827.0 1077.3 L829.0 1077.8 L831.0 1078.3 L833.0 1078.8 L835.0 1079.3 L837.0 1079.7 L839.0 1080.2 L841.0 1080.6 L843.0 1081.0 L845.0 1081.4 L847.0 1081.9 L849.0 1082.3 L851.0 1082.7 L853.0 1083.2 L855.0 1083.6 L857.0 1084.1 L859.0 1084.6 L861.0 1085.1 L863.0 1085.6 L865.0 1086.1 L867.0 1086.6 L869.0 1087.1 L871.0 1087.6 L873.0 1088.1 L875.0 1088.7 L877.0 1089.2 L879.0 1089.7 L881.0 1090.1 L883.0 1090.6 L885.0 1091.1 L887.0 1091.6 L889.0 1092.0 L891.0 1092.5 L893.0 1092.9 L895.0 1093.4 L897.0 1093.8 L899.0 1094.3 L901.0 1094.7 L903.0 1095.1 L905.0 1095.5 L907.0 1095.9 L909.0 1096.3 L911.0 1096.7 L913.0 1097.1 L915.0 1097.5 L917.0 1097.9 L919.0 1098.3 L921.0 1098.7 L923.0 1099.1 L925.0 1099.5 L927.0 1099.9 L929.0 1100.3 L931.0 1100.7 L933.0 1101.1 L935.0 1101.5 L937.0 1101.9 L939.0 1102.4 L941.0 1102.8 L943.0 1103.2 L945.0 1103.6 L947.0 1103.9 L949.0 1104.3 L951.0 1104.7 L953.0 1105.1 L955.0 1105.5 L957.0 1105.8 L959.0 1106.2 L961.0 1106.6 L963.0 1106.9 L965.0 1107.3 L967.0 1107.6 L969.0 1108.0 L971.0 1108.3 L973.0 1108.7 L975.0 1109.0 L977.0 1109.3 L979.0 1109.7 L981.0 1110.0 L983.0 1110.3 L985.0 1110.6 L987.0 1111.0 L989.0 1111.3 L991.0 1111.6 L993.0 1111.9 L995.0 1112.2 L997.0 1112.5 L999.0 1112.8 L1001.0 1113.1 L1003.0 1113.4 L1005.0 1113.6 L1007.0 1113.9 L1009.0 1114.2 L1011.0 1114.5 L1013.0 1114.7 L1015.0 1115.0 L1017.0 1115.3 L1019.0 1115.5 L1021.0 1115.8 L1023.0 1116.1 L1025.0 1116.3 L1027.0 1116.5 L1029.0 1116.8 L1031.0 1117.0 L1033.0 1117.2 L1035.0 1117.5 L1037.0 1117.7 L1039.0 1117.9 L1041.0 1118.1 L1043.0 1118.3 L1045.0 1118.5 L1047.0 1118.7 L1049.0 1118.9 L1051.0 1119.0 L1053.0 1119.2 L1055.0 1119.4 L1057.0 1119.6 L1059.0 1119.8 L1061.0 1120.0 L1063.0 1120.2 L1065.0 1120.4 L1067.0 1120.6 L1069.0 1120.8 L1071.0 1121.1 L1073.0 1121.3 L1075.0 1121.6 L1077.0 1121.8 L1079.0 1122.1 L1081.0 1122.4 L1083.0 1122.7 L1085.0 1123.0 L1087.0 1123.3 L1089.0 1123.6 L1091.0 1123.9 L1093.0 1124.2 L1095.0 1124.4 L1097.0 1124.7 L1099.0 1125.0 L1101.0 1125.2 L1103.0 1125.5 L1105.0 1125.7 L1107.0 1125.9 L1109.0 1126.1 L1111.0 1126.3 L1113.0 1126.5 L1115.0 1126.6 L1117.0 1126.8 L1119.0 1126.9 L1121.0 1127.1 L1123.0 1127.2 L1125.0 1127.3 L1127.0 1127.5 L1129.0 1127.6 L1131.0 1127.7 L1133.0 1127.9 L1135.0 1128.0 L1137.0 1128.1 L1139.0 1128.2 L1141.0 1128.3 L1143.0 1128.4 L1145.0 1128.6 L1147.0 1128.7 L1149.0 1128.8 L1151.0 1128.9 L1153.0 1129.0 L1155.0 1129.1 L1157.0 1129.3 L1159.0 1129.4 L1161.0 1129.5 L1163.0 1129.6 L1165.0 1129.7 L1167.0 1129.9 L1169.0 1130.0 L1171.0 1130.1 L1173.0 1130.2 L1175.0 1130.3 L1177.0 1130.5 L1179.0 1130.6 L1181.0 1130.7 L1183.0 1130.8 L1185.0 1130.9 L1187.0 1131.0 L1189.0 1131.2 L1191.0 1131.3 L1193.0 1131.4 L1195.0 1131.5 L1197.0 1131.6 L1199.0 1131.7 L1201.0 1131.9 L1203.0 1132.0 L1205.0 1132.1 L1207.0 1132.2 L1209.0 1132.3 L1211.0 1132.5 L1213.0 1132.6 L1215.0 1132.7 L1217.0 1132.9 L1219.0 1133.0 L1221.0 1133.1 L1223.0 1133.2 L1225.0 1133.3 L1227.0 1133.4 L1229.0 1133.4 L1231.0 1133.4 L1233.0 1133.4 L1235.0 1133.3 L1237.0 1133.2 L1239.0 1133.1 L1241.0 1132.9 L1243.0 1132.8 L1245.0 1132.7 L1247.0 1132.7 L1249.0 1132.6 L1251.0 1132.7 L1253.0 1132.8 L1255.0 1133.0 L1257.0 1133.2 L1259.0 1133.5 L1261.0 1133.8 L1263.0 1134.2 L1265.0 1134.5 L1267.0 1134.9 L1269.0 1135.2 L1271.0 1135.5 L1273.0 1135.8 L1275.0 1136.1 L1277.0 1136.3 L1279.0 1136.6 L1281.0 1136.8 L1283.0 1137.0 L1285.0 1137.2 L1287.0 1137.3 L1289.0 1137.4 L1291.0 1137.4 L1293.0 1137.3 L1295.0 1137.1 L1297.0 1136.9 L1299.0 1136.6 L1301.0 1136.3 L1303.0 1136.0 L1305.0 1135.9 L1307.0 1135.8 L1309.0 1135.8 L1311.0 1136.0 L1313.0 1136.3 L1315.0 1136.7 L1317.0 1137.1 L1319.0 1137.4 L1321.0 1137.6 L1323.0 1137.1 L1325.0 1135.3 L1327.0 1133.0 L1329.0 1130.8 L1331.0 1129.5 L1333.0 1129.8 L1335.0 1131.4 L1337.0 1133.6 L1339.0 1135.8 L1341.0 1137.3 L1343.0 1137.8 L1345.0 1138.1 L1347.0 1138.4 L1349.0 1138.7 L1351.0 1138.8 L1353.0 1139.0 L1355.0 1139.2 L1357.0 1139.3 L1359.0 1139.4 L1361.0 1139.5 L1363.0 1139.6 L1365.0 1139.7 L1367.0 1139.8 L1369.0 1139.9 L1371.0 1140.0 L1373.0 1140.1 L1375.0 1140.2 L1377.0 1140.3 L1379.0 1140.3 L1381.0 1140.4 L1383.0 1140.5 L1385.0 1140.5 L1387.0 1140.5 L1389.0 1140.5 L1391.0 1140.5 L1393.0 1140.4 L1395.0 1140.3 L1397.0 1140.0 L1399.0 1139.7 L1401.0 1139.4 L1403.0 1138.9 L1405.0 1138.5 L1407.0 1137.9 L1409.0 1137.1 L1411.0 1136.4 L1413.0 1136.1 L1415.0 1136.8 L1417.0 1138.4 L1419.0 1140.2 L1421.0 1141.6 L1423.0 1142.3 L1425.0 1143.0 L1427.0 1143.6 L1429.0 1144.1 L1431.0 1144.5 L1433.0 1144.7 L1435.0 1144.7 L1437.0 1144.8 L1439.0 1144.9 L1441.0 1144.9 L1443.0 1145.0 L1445.0 1145.0 L1447.0 1145.0 L1449.0 1145.1 L1451.0 1145.1 L1453.0 1145.2 L1455.0 1145.2 L1457.0 1145.2 L1459.0 1145.3 L1461.0 1145.3 L1463.0 1145.3 L1465.0 1145.4 L1467.0 1145.4 L1469.0 1145.4 L1471.0 1145.5 L1473.0 1145.5 L1475.0 1145.5 L1477.0 1145.5 L1479.0 1145.5 L1481.0 1145.6 L1483.0 1145.6 L1485.0 1145.6 L1487.0 1145.6 L1489.0 1145.6 L1491.0 1145.6 L1493.0 1145.6 L1495.0 1145.6 L1497.0 1145.7 L1499.0 1145.7 L1501.0 1145.7 L1503.0 1145.7 L1505.0 1145.7 L1507.0 1145.7 L1509.0 1145.7 L1511.0 1145.7 L1513.0 1145.7 L1515.0 1145.7 L1517.0 1145.7 L1518.0 1145.7"/>
<path class="curve" stroke="#00CBCC" stroke-opacity="0.25" d="M124.0 1147.0 L126.0 1147.0 L128.0 1146.9 L130.0 1146.9 L132.0 1146.8 L134.0 1146.8 L136.0 1146.7 L138.0 1146.7 L140.0 1146.6 L142.0 1146.6 L144.0 1146.5 L145.0 1146.5"/>
<path class="curve" stroke="#00CBCC" d="M145.4 1146.5 L147.4 1146.5 L149.4 1146.5 L151.4 1146.4 L153.4 1146.4 L155.4 1146.4 L157.4 1146.3 L159.4 1146.2 L161.4 1146.2 L163.4 1146.1 L165.4 1146.0 L167.4 1145.9 L169.4 1145.9 L171.4 1145.8 L173.4 1145.7 L175.4 1145.5 L177.4 1145.4 L179.4 1145.2 L181.4 1145.0 L183.4 1144.8 L185.4 1144.6 L187.4 1144.4 L189.4 1144.2 L191.4 1143.9 L193.4 1143.7 L195.4 1143.4 L197.4 1143.1 L199.4 1142.8 L201.4 1142.4 L203.4 1142.0 L205.4 1141.6 L207.4 1141.1 L209.4 1140.7 L211.4 1140.2 L213.4 1139.7 L215.4 1139.1 L217.4 1138.6 L219.4 1138.1 L221.4 1137.6 L223.4 1137.1 L225.4 1136.6 L227.4 1136.1 L229.4 1135.6 L231.4 1135.0 L233.4 1134.5 L235.4 1133.9 L237.4 1133.4 L239.4 1132.8 L241.4 1132.2 L243.4 1131.6 L245.4 1131.0 L247.4 1130.4 L249.4 1129.8 L251.4 1129.1 L253.4 1128.4 L255.4 1127.7 L257.4 1127.0 L259.4 1126.3 L261.4 1125.6 L263.4 1124.8 L265.4 1124.1 L267.4 1123.4 L269.4 1122.7 L271.4 1122.1 L273.4 1121.4 L275.4 1120.8 L277.4 1120.2 L279.4 1119.6 L281.4 1119.0 L283.4 1118.4 L285.4 1117.8 L287.4 1117.2 L289.4 1116.6 L291.4 1116.0 L293.4 1115.4 L295.4 1114.8 L297.4 1114.2 L299.4 1113.5 L301.4 1112.9 L303.4 1112.2 L305.4 1111.5 L307.4 1110.8 L309.4 1110.1 L311.4 1109.4 L313.4 1108.7 L315.4 1108.0 L317.4 1107.4 L319.4 1106.7 L321.4 1106.0 L323.4 1105.4 L325.4 1104.8 L327.4 1104.1 L329.4 1103.5 L331.4 1102.8 L333.4 1102.0 L335.4 1101.3 L337.4 1100.5 L339.4 1099.8 L341.4 1099.1 L343.4 1098.5 L345.4 1098.0 L347.4 1097.5 L349.4 1097.3 L351.4 1097.1 L353.4 1096.9 L355.4 1096.8 L357.4 1096.7 L359.4 1096.5 L361.4 1096.4 L363.4 1096.2 L365.4 1095.9 L367.4 1095.6 L369.4 1095.1 L371.4 1094.6 L373.4 1094.0 L375.4 1093.4 L377.4 1092.8 L379.4 1092.2 L381.4 1091.7 L383.4 1091.1 L385.4 1090.5 L387.4 1089.9 L389.4 1089.3 L391.4 1088.7 L393.4 1088.1 L395.4 1087.5 L397.4 1086.9 L399.4 1086.3 L401.4 1085.7 L403.4 1085.1 L405.4 1084.5 L407.4 1083.9 L409.4 1083.3 L411.4 1082.7 L413.4 1082.0 L415.4 1081.4 L417.4 1080.8 L419.4 1080.2 L421.4 1079.6 L423.4 1079.0 L425.4 1078.4 L427.4 1077.8 L429.4 1077.3 L431.4 1076.7 L433.4 1076.2 L435.4 1075.6 L437.4 1075.1 L439.4 1074.6 L441.4 1074.0 L443.4 1073.5 L445.4 1073.0 L447.4 1072.5 L449.4 1072.0 L451.4 1071.6 L453.4 1071.1 L455.4 1070.7 L457.4 1070.3 L459.4 1069.9 L461.4 1069.5 L463.4 1069.1 L465.4 1068.7 L467.4 1068.4 L469.4 1068.0 L471.4 1067.7 L473.4 1067.4 L475.4 1067.1 L477.4 1066.8 L479.4 1066.5 L481.4 1066.3 L483.4 1066.0 L485.4 1065.8 L487.4 1065.6 L489.4 1065.3 L491.4 1065.1 L493.4 1065.0 L495.4 1064.8 L497.4 1064.6 L499.4 1064.5 L501.4 1064.4 L503.4 1064.4 L505.4 1064.3 L507.4 1064.2 L509.4 1064.1 L511.4 1064.0 L513.4 1064.0 L515.4 1063.9 L517.4 1063.8 L519.4 1063.8 L521.4 1063.7 L523.4 1063.7 L525.4 1063.6 L527.4 1063.6 L529.4 1063.6 L531.4 1063.5 L533.4 1063.5 L535.4 1063.5 L537.4 1063.5 L539.4 1063.5 L541.4 1063.5 L543.4 1063.6 L545.4 1063.6 L547.4 1063.7 L549.4 1063.8 L551.4 1063.8 L553.4 1063.9 L555.4 1064.1 L557.4 1064.2 L559.4 1064.3 L561.4 1064.4 L563.4 1064.6 L565.4 1064.7 L567.4 1064.9 L569.4 1065.0 L571.4 1065.2 L573.4 1065.3 L575.4 1065.4 L577.4 1065.6 L579.4 1065.8 L581.4 1065.9 L583.4 1066.1 L585.4 1066.3 L587.4 1066.5 L589.4 1066.7 L591.4 1067.0 L593.4 1067.2 L595.4 1067.4 L597.4 1067.7 L599.4 1067.9 L601.4 1068.2 L603.4 1068.4 L605.4 1068.7 L607.4 1068.9 L609.4 1069.2 L611.4 1069.4 L613.4 1069.7 L615.4 1069.9 L617.4 1070.2 L619.4 1070.4 L621.4 1070.7 L623.4 1070.9 L625.4 1071.2 L627.4 1071.4 L629.4 1071.7 L631.4 1072.0 L633.4 1072.2 L635.4 1072.5 L637.4 1072.8 L639.4 1073.0 L641.4 1073.3 L643.4 1073.6 L645.4 1073.9 L647.4 1074.2 L649.4 1074.4 L651.4 1074.7 L653.4 1075.0 L655.4 1075.3 L657.4 1075.7 L659.4 1076.0 L661.4 1076.3 L663.4 1076.6 L665.4 1077.0 L667.4 1077.3 L669.4 1077.7 L671.4 1078.0 L673.4 1078.4 L675.4 1078.7 L677.4 1079.1 L679.4 1079.4 L681.4 1079.8 L683.4 1080.1 L685.4 1080.4 L687.4 1080.8 L689.4 1081.1 L691.4 1081.4 L693.4 1081.7 L695.4 1082.1 L697.4 1082.4 L699.4 1082.7 L701.4 1083.0 L703.4 1083.3 L705.4 1083.6 L707.4 1083.9 L709.4 1084.2 L711.4 1084.5 L713.4 1084.8 L715.4 1085.1 L717.4 1085.4 L719.4 1085.7 L721.4 1086.0 L723.4 1086.3 L725.4 1086.6 L727.4 1086.9 L729.4 1087.2 L731.4 1087.5 L733.4 1087.8 L735.4 1088.1 L737.4 1088.4 L739.4 1088.6 L741.4 1088.9 L743.4 1089.2 L745.4 1089.5 L747.4 1089.8 L749.4 1090.0 L751.4 1090.3 L753.4 1090.6 L755.4 1090.9 L757.4 1091.2 L759.4 1091.5 L761.4 1091.8 L763.4 1092.2 L765.4 1092.5 L767.4 1092.8 L769.4 1093.2 L771.4 1093.6 L773.4 1093.9 L775.4 1094.3 L777.4 1094.7 L779.4 1095.2 L781.4 1095.6 L783.4 1096.0 L785.4 1096.4 L787.4 1096.9 L789.4 1097.3 L791.4 1097.7 L793.4 1098.1 L795.4 1098.5 L797.4 1098.9 L799.4 1099.3 L801.4 1099.7 L803.4 1100.0 L805.4 1100.3 L807.4 1100.7 L809.4 1101.0 L811.4 1101.3 L813.4 1101.5 L815.4 1101.8 L817.4 1102.1 L819.4 1102.4 L821.4 1102.6 L823.4 1102.9 L825.4 1103.1 L827.4 1103.4 L829.4 1103.6 L831.4 1103.9 L833.4 1104.2 L835.4 1104.4 L837.4 1104.7 L839.4 1104.9 L841.4 1105.2 L843.4 1105.4 L845.4 1105.7 L847.4 1106.0 L849.4 1106.3 L851.4 1106.5 L853.4 1106.8 L855.4 1107.1 L857.4 1107.4 L859.4 1107.6 L861.4 1107.9 L863.4 1108.2 L865.4 1108.5 L867.4 1108.7 L869.4 1109.0 L871.4 1109.3 L873.4 1109.5 L875.4 1109.8 L877.4 1110.0 L879.4 1110.3 L881.4 1110.5 L883.4 1110.7 L885.4 1110.9 L887.4 1111.2 L889.4 1111.4 L891.4 1111.6 L893.4 1111.8 L895.4 1112.0 L897.4 1112.2 L899.4 1112.5 L901.4 1112.7 L903.4 1113.0 L905.4 1113.3 L907.4 1113.5 L909.4 1113.8 L911.4 1114.2 L913.4 1114.5 L915.4 1114.8 L917.4 1115.1 L919.4 1115.4 L921.4 1115.8 L923.4 1116.1 L925.4 1116.4 L927.4 1116.7 L929.4 1117.0 L931.4 1117.3 L933.4 1117.5 L935.4 1117.8 L937.4 1118.1 L939.4 1118.4 L941.4 1118.6 L943.4 1118.9 L945.4 1119.1 L947.4 1119.4 L949.4 1119.7 L951.4 1119.9 L953.4 1120.2 L955.4 1120.4 L957.4 1120.7 L959.4 1120.9 L961.4 1121.1 L963.4 1121.4 L965.4 1121.6 L967.4 1121.9 L969.4 1122.1 L971.4 1122.3 L973.4 1122.6 L975.4 1122.8 L977.4 1123.0 L979.4 1123.2 L981.4 1123.5 L983.4 1123.7 L985.4 1123.9 L987.4 1124.1 L989.4 1124.3 L991.4 1124.6 L993.4 1124.8 L995.4 1125.0 L997.4 1125.2 L999.4 1125.4 L1001.4 1125.6 L1003.4 1125.8 L1005.4 1126.0 L1007.4 1126.2 L1009.4 1126.4 L1011.4 1126.6 L1013.4 1126.8 L1015.4 1127.0 L1017.4 1127.2 L1019.4 1127.4 L1021.4 1127.6 L1023.4 1127.8 L1025.4 1128.0 L1027.4 1128.1 L1029.4 1128.3 L1031.4 1128.5 L1033.4 1128.7 L1035.4 1128.8 L1037.4 1129.0 L1039.4 1129.2 L1041.4 1129.3 L1043.4 1129.5 L1045.4 1129.7 L1047.4 1129.8 L1049.4 1130.0 L1051.4 1130.1 L1053.4 1130.3 L1055.4 1130.4 L1057.4 1130.6 L1059.4 1130.7 L1061.4 1130.9 L1063.4 1131.0 L1065.4 1131.1 L1067.4 1131.3 L1069.4 1131.4 L1071.4 1131.6 L1073.4 1131.7 L1075.4 1131.8 L1077.4 1132.0 L1079.4 1132.1 L1081.4 1132.3 L1083.4 1132.4 L1085.4 1132.5 L1087.4 1132.7 L1089.4 1132.8 L1091.4 1133.0 L1093.4 1133.1 L1095.4 1133.2 L1097.4 1133.4 L1099.4 1133.5 L1101.4 1133.6 L1103.4 1133.8 L1105.4 1133.9 L1107.4 1134.0 L1109.4 1134.2 L1111.4 1134.3 L1113.4 1134.4 L1115.4 1134.6 L1117.4 1134.7 L1119.4 1134.8 L1121.4 1134.9 L1123.4 1135.1 L1125.4 1135.2 L1127.4 1135.3 L1129.4 1135.4 L1131.4 1135.5 L1133.4 1135.7 L1135.4 1135.8 L1137.4 1135.9 L1139.4 1136.0 L1141.4 1136.1 L1143.4 1136.2 L1145.4 1136.3 L1147.4 1136.4 L1149.4 1136.5 L1151.4 1136.6 L1153.4 1136.7 L1155.4 1136.8 L1157.4 1136.9 L1159.4 1137.0 L1161.4 1137.1 L1163.4 1137.2 L1165.4 1137.3 L1167.4 1137.4 L1169.4 1137.5 L1171.4 1137.6 L1173.4 1137.7 L1175.4 1137.8 L1177.4 1137.9 L1179.4 1138.0 L1181.4 1138.1 L1183.4 1138.2 L1185.4 1138.3 L1187.4 1138.4 L1189.4 1138.5 L1191.4 1138.6 L1193.4 1138.7 L1195.4 1138.8 L1197.4 1138.9 L1199.4 1139.0 L1201.4 1139.2 L1203.4 1139.3 L1205.4 1139.4 L1207.4 1139.5 L1209.4 1139.6 L1211.4 1139.7 L1213.4 1139.8 L1215.4 1139.9 L1217.4 1140.0 L1219.4 1140.1 L1221.4 1140.2 L1223.4 1140.3 L1225.4 1140.4 L1227.4 1140.5 L1229.4 1140.6 L1231.4 1140.7 L1233.4 1140.8 L1235.4 1140.9 L1237.4 1141.0 L1239.4 1141.1 L1241.4 1141.2 L1243.4 1141.3 L1245.4 1141.3 L1247.4 1141.4 L1249.4 1141.5 L1251.4 1141.6 L1253.4 1141.7 L1255.4 1141.8 L1257.4 1141.9 L1259.4 1142.0 L1261.4 1142.1 L1263.4 1142.2 L1265.4 1142.3 L1267.4 1142.4 L1269.4 1142.5 L1271.4 1142.6 L1273.4 1142.6 L1275.4 1142.7 L1277.4 1142.8 L1279.4 1142.9 L1281.4 1142.9 L1283.4 1143.0 L1285.4 1143.0 L1287.4 1143.1 L1289.4 1143.2 L1291.4 1143.2 L1293.4 1143.3 L1295.4 1143.3 L1297.4 1143.3 L1299.4 1143.4 L1301.4 1143.4 L1303.4 1143.5 L1305.4 1143.5 L1307.4 1143.6 L1309.4 1143.6 L1311.4 1143.6 L1313.4 1143.6 L1315.4 1143.7 L1317.4 1143.7 L1319.4 1143.7 L1321.4 1143.7 L1323.4 1143.4 L1325.4 1142.7 L1327.4 1141.8 L1329.4 1141.0 L1331.4 1140.6 L1333.4 1140.8 L1335.4 1141.5 L1337.4 1142.4 L1339.4 1143.2 L1341.4 1143.7 L1343.4 1143.8 L1345.4 1143.8 L1347.4 1143.9 L1349.4 1144.0 L1351.4 1144.0 L1353.4 1144.1 L1355.4 1144.1 L1357.4 1144.2 L1359.4 1144.2 L1361.4 1144.3 L1363.4 1144.3 L1365.4 1144.4 L1367.4 1144.4 L1369.4 1144.5 L1371.4 1144.5 L1373.4 1144.5 L1375.4 1144.5 L1377.4 1144.6 L1379.4 1144.6 L1381.4 1144.6 L1383.4 1144.6 L1385.4 1144.6 L1387.4 1144.7 L1389.4 1144.7 L1391.4 1144.7 L1393.4 1144.7 L1395.4 1144.7 L1397.4 1144.7 L1399.4 1144.6 L1401.4 1144.6 L1403.4 1144.6 L1405.4 1144.4 L1407.4 1144.1 L1409.4 1143.6 L1411.4 1143.3 L1413.4 1143.2 L1415.4 1143.5 L1417.4 1144.2 L1419.4 1144.9 L1421.4 1145.5 L1423.4 1145.7 L1425.4 1145.8 L1427.4 1145.8 L1429.4 1145.9 L1431.4 1145.9 L1433.4 1146.0 L1435.4 1146.0 L1437.4 1146.0 L1439.4 1146.1 L1441.4 1146.1 L1443.4 1146.2 L1445.4 1146.2 L1447.4 1146.2 L1449.4 1146.3 L1451.4 1146.3 L1453.4 1146.3 L1455.4 1146.3 L1457.4 1146.4 L1459.4 1146.4 L1461.4 1146.4 L1463.4 1146.4 L1465.4 1146.5 L1467.4 1146.5 L1469.4 1146.5 L1471.4 1146.5 L1473.4 1146.5 L1475.4 1146.6 L1477.4 1146.6 L1479.4 1146.6 L1481.4 1146.6 L1483.4 1146.6 L1485.4 1146.6 L1487.4 1146.6 L1489.4 1146.6 L1491.4 1146.7 L1493.4 1146.7 L1495.4 1146.7 L1497.4 1146.7 L1499.4 1146.7 L1501.4 1146.7 L1503.4 1146.7 L1505.4 1146.7 L1507.4 1146.7 L1509.4 1146.7 L1511.4 1146.7 L1513.4 1146.7 L1515.4 1146.7 L1517.4 1146.7 L1517.9 1146.7"/>
<path class="curve" stroke="#7D4E4E" d="M124.0 1151.5 L126.0 1151.5 L128.0 1151.5 L130.0 1151.5 L132.0 1151.5 L134.0 1151.5 L136.0 1151.4 L138.0 1151.4 L140.0 1151.4 L142.0 1151.4 L144.0 1151.4 L146.0 1151.3 L148.0 1151.3 L150.0 1151.3 L152.0 1151.3 L154.0 1151.2 L156.0 1151.2 L158.0 1151.2 L160.0 1151.1 L162.0 1151.1 L164.0 1151.0 L166.0 1151.0 L168.0 1151.0 L170.0 1150.9 L172.0 1150.9 L174.0 1150.8 L176.0 1150.7 L178.0 1150.7 L180.0 1150.6 L182.0 1150.5 L184.0 1150.4 L186.0 1150.3 L188.0 1150.2 L190.0 1150.1 L192.0 1150.0 L194.0 1149.8 L196.0 1149.7 L198.0 1149.6 L200.0 1149.4 L202.0 1149.2 L204.0 1149.0 L206.0 1148.8 L208.0 1148.6 L210.0 1148.4 L212.0 1148.2 L214.0 1148.0 L216.0 1147.7 L218.0 1147.5 L220.0 1147.3 L222.0 1147.0 L224.0 1146.8 L226.0 1146.6 L228.0 1146.3 L230.0 1146.1 L232.0 1145.8 L234.0 1145.6 L236.0 1145.3 L238.0 1145.0 L240.0 1144.8 L242.0 1144.5 L244.0 1144.3 L246.0 1144.0 L248.0 1143.8 L250.0 1143.5 L252.0 1143.2 L254.0 1143.0 L256.0 1142.7 L258.0 1142.5 L260.0 1142.2 L262.0 1142.0 L264.0 1141.8 L266.0 1141.5 L268.0 1141.3 L270.0 1141.0 L272.0 1140.8 L274.0 1140.6 L276.0 1140.4 L278.0 1140.2 L280.0 1140.0 L282.0 1139.8 L284.0 1139.6 L286.0 1139.4 L288.0 1139.2 L290.0 1139.0 L292.0 1138.8 L294.0 1138.6 L296.0 1138.4 L298.0 1138.2 L300.0 1137.9 L302.0 1137.7 L304.0 1137.5 L306.0 1137.2 L308.0 1137.0 L310.0 1136.8 L312.0 1136.6 L314.0 1136.3 L316.0 1136.1 L318.0 1135.9 L320.0 1135.7 L322.0 1135.5 L324.0 1135.3 L326.0 1135.2 L328.0 1135.0 L330.0 1134.8 L332.0 1134.7 L334.0 1134.5 L336.0 1134.4 L338.0 1134.2 L340.0 1134.0 L342.0 1133.9 L344.0 1133.7 L346.0 1133.5 L348.0 1133.3 L350.0 1133.0 L352.0 1132.8 L354.0 1132.6 L356.0 1132.3 L358.0 1132.1 L360.0 1131.8 L362.0 1131.6 L364.0 1131.3 L366.0 1131.1 L368.0 1130.8 L370.0 1130.5 L372.0 1130.2 L374.0 1130.0 L376.0 1129.7 L378.0 1129.4 L380.0 1129.2 L382.0 1128.9 L384.0 1128.7 L386.0 1128.4 L388.0 1128.2 L390.0 1127.9 L392.0 1127.7 L394.0 1127.5 L396.0 1127.3 L398.0 1127.1 L400.0 1126.8 L402.0 1126.6 L404.0 1126.4 L406.0 1126.2 L408.0 1126.0 L410.0 1125.8 L412.0 1125.6 L414.0 1125.4 L416.0 1125.2 L418.0 1125.0 L420.0 1124.8 L422.0 1124.6 L424.0 1124.4 L426.0 1124.2 L428.0 1124.0 L430.0 1123.8 L432.0 1123.6 L434.0 1123.5 L436.0 1123.3 L438.0 1123.1 L440.0 1122.9 L442.0 1122.8 L444.0 1122.6 L446.0 1122.4 L448.0 1122.3 L450.0 1122.1 L452.0 1121.9 L454.0 1121.8 L456.0 1121.6 L458.0 1121.5 L460.0 1121.3 L462.0 1121.2 L464.0 1121.0 L466.0 1120.9 L468.0 1120.7 L470.0 1120.6 L472.0 1120.5 L474.0 1120.3 L476.0 1120.2 L478.0 1120.1 L480.0 1120.0 L482.0 1119.8 L484.0 1119.7 L486.0 1119.6 L488.0 1119.5 L490.0 1119.4 L492.0 1119.3 L494.0 1119.1 L496.0 1119.0 L498.0 1118.9 L500.0 1118.8 L502.0 1118.7 L504.0 1118.6 L506.0 1118.5 L508.0 1118.4 L510.0 1118.3 L512.0 1118.2 L514.0 1118.1 L516.0 1118.0 L518.0 1117.9 L520.0 1117.9 L522.0 1117.8 L524.0 1117.8 L526.0 1117.7 L528.0 1117.7 L530.0 1117.7 L532.0 1117.7 L534.0 1117.6 L536.0 1117.6 L538.0 1117.6 L540.0 1117.6 L542.0 1117.6 L544.0 1117.5 L546.0 1117.5 L548.0 1117.5 L550.0 1117.5 L552.0 1117.5 L554.0 1117.5 L556.0 1117.5 L558.0 1117.4 L560.0 1117.4 L562.0 1117.4 L564.0 1117.4 L566.0 1117.4 L568.0 1117.4 L570.0 1117.4 L572.0 1117.4 L574.0 1117.4 L576.0 1117.4 L578.0 1117.4 L580.0 1117.4 L582.0 1117.5 L584.0 1117.5 L586.0 1117.5 L588.0 1117.6 L590.0 1117.6 L592.0 1117.7 L594.0 1117.7 L596.0 1117.8 L598.0 1117.9 L600.0 1117.9 L602.0 1118.0 L604.0 1118.1 L606.0 1118.2 L608.0 1118.2 L610.0 1118.3 L612.0 1118.4 L614.0 1118.5 L616.0 1118.6 L618.0 1118.6 L620.0 1118.7 L622.0 1118.8 L624.0 1118.9 L626.0 1119.0 L628.0 1119.1 L630.0 1119.2 L632.0 1119.3 L634.0 1119.5 L636.0 1119.6 L638.0 1119.7 L640.0 1119.8 L642.0 1120.0 L644.0 1120.1 L646.0 1120.3 L648.0 1120.4 L650.0 1120.5 L652.0 1120.7 L654.0 1120.8 L656.0 1120.9 L658.0 1121.1 L660.0 1121.2 L662.0 1121.3 L664.0 1121.5 L666.0 1121.6 L668.0 1121.7 L670.0 1121.9 L672.0 1122.0 L674.0 1122.1 L676.0 1122.3 L678.0 1122.4 L680.0 1122.5 L682.0 1122.7 L684.0 1122.8 L686.0 1122.9 L688.0 1123.1 L690.0 1123.2 L692.0 1123.3 L694.0 1123.4 L696.0 1123.6 L698.0 1123.7 L700.0 1123.8 L702.0 1123.9 L704.0 1124.0 L706.0 1124.1 L708.0 1124.3 L710.0 1124.4 L712.0 1124.5 L714.0 1124.6 L716.0 1124.7 L718.0 1124.8 L720.0 1124.9 L722.0 1125.0 L724.0 1125.0 L726.0 1125.1 L728.0 1125.2 L730.0 1125.3 L732.0 1125.4 L734.0 1125.5 L736.0 1125.6 L738.0 1125.7 L740.0 1125.8 L742.0 1125.9 L744.0 1126.0 L746.0 1126.1 L748.0 1126.2 L750.0 1126.3 L752.0 1126.4 L754.0 1126.5 L756.0 1126.6 L758.0 1126.7 L760.0 1126.8 L762.0 1126.9 L764.0 1127.0 L766.0 1127.2 L768.0 1127.3 L770.0 1127.4 L772.0 1127.5 L774.0 1127.6 L776.0 1127.7 L778.0 1127.9 L780.0 1128.0 L782.0 1128.1 L784.0 1128.2 L786.0 1128.3 L788.0 1128.5 L790.0 1128.6 L792.0 1128.7 L794.0 1128.8 L796.0 1129.0 L798.0 1129.1 L800.0 1129.2 L802.0 1129.3 L804.0 1129.4 L806.0 1129.6 L808.0 1129.7 L810.0 1129.8 L812.0 1129.9 L814.0 1130.1 L816.0 1130.2 L818.0 1130.3 L820.0 1130.4 L822.0 1130.6 L824.0 1130.7 L826.0 1130.8 L828.0 1130.9 L830.0 1131.1 L832.0 1131.2 L834.0 1131.3 L836.0 1131.5 L838.0 1131.6 L840.0 1131.7 L842.0 1131.8 L844.0 1131.9 L846.0 1132.1 L848.0 1132.2 L850.0 1132.3 L852.0 1132.4 L854.0 1132.5 L856.0 1132.6 L858.0 1132.7 L860.0 1132.8 L862.0 1132.9 L864.0 1133.0 L866.0 1133.1 L868.0 1133.2 L870.0 1133.3 L872.0 1133.4 L874.0 1133.4 L876.0 1133.5 L878.0 1133.6 L880.0 1133.7 L882.0 1133.8 L884.0 1133.9 L886.0 1134.0 L888.0 1134.1 L890.0 1134.1 L892.0 1134.2 L894.0 1134.3 L896.0 1134.4 L898.0 1134.5 L900.0 1134.6 L902.0 1134.7 L904.0 1134.8 L906.0 1134.9 L908.0 1135.0 L910.0 1135.1 L912.0 1135.2 L914.0 1135.3 L916.0 1135.4 L918.0 1135.5 L920.0 1135.6 L922.0 1135.7 L924.0 1135.8 L926.0 1135.9 L928.0 1136.1 L930.0 1136.2 L932.0 1136.3 L934.0 1136.4 L936.0 1136.5 L938.0 1136.6 L940.0 1136.7 L942.0 1136.8 L944.0 1136.9 L946.0 1137.0 L948.0 1137.1 L950.0 1137.2 L952.0 1137.3 L954.0 1137.4 L956.0 1137.5 L958.0 1137.6 L960.0 1137.7 L962.0 1137.8 L964.0 1137.9 L966.0 1138.0 L968.0 1138.1 L970.0 1138.2 L972.0 1138.3 L974.0 1138.4 L976.0 1138.5 L978.0 1138.6 L980.0 1138.7 L982.0 1138.8 L984.0 1138.9 L986.0 1139.0 L988.0 1139.1 L990.0 1139.2 L992.0 1139.3 L994.0 1139.4 L996.0 1139.5 L998.0 1139.6 L1000.0 1139.7 L1002.0 1139.8 L1004.0 1139.9 L1006.0 1140.0 L1008.0 1140.1 L1010.0 1140.2 L1012.0 1140.3 L1014.0 1140.4 L1016.0 1140.5 L1018.0 1140.6 L1020.0 1140.7 L1022.0 1140.8 L1024.0 1140.9 L1026.0 1141.0 L1028.0 1141.1 L1030.0 1141.2 L1032.0 1141.3 L1034.0 1141.4 L1036.0 1141.5 L1038.0 1141.6 L1040.0 1141.7 L1042.0 1141.8 L1044.0 1141.9 L1046.0 1142.0 L1048.0 1142.1 L1050.0 1142.2 L1052.0 1142.3 L1054.0 1142.4 L1056.0 1142.5 L1058.0 1142.6 L1060.0 1142.7 L1062.0 1142.8 L1064.0 1142.9 L1066.0 1143.0 L1068.0 1143.1 L1070.0 1143.2 L1072.0 1143.3 L1074.0 1143.4 L1076.0 1143.5 L1078.0 1143.6 L1080.0 1143.7 L1082.0 1143.7 L1084.0 1143.8 L1086.0 1143.9 L1088.0 1144.0 L1090.0 1144.1 L1092.0 1144.1 L1094.0 1144.2 L1096.0 1144.3 L1098.0 1144.4 L1100.0 1144.4 L1102.0 1144.5 L1104.0 1144.6 L1106.0 1144.7 L1108.0 1144.7 L1110.0 1144.8 L1112.0 1144.9 L1114.0 1144.9 L1116.0 1145.0 L1118.0 1145.1 L1120.0 1145.1 L1122.0 1145.2 L1124.0 1145.3 L1126.0 1145.3 L1128.0 1145.4 L1130.0 1145.5 L1132.0 1145.5 L1134.0 1145.6 L1136.0 1145.7 L1138.0 1145.7 L1140.0 1145.8 L1142.0 1145.9 L1144.0 1145.9 L1146.0 1146.0 L1148.0 1146.1 L1150.0 1146.1 L1152.0 1146.2 L1154.0 1146.3 L1156.0 1146.3 L1158.0 1146.4 L1160.0 1146.5 L1162.0 1146.5 L1164.0 1146.6 L1166.0 1146.7 L1168.0 1146.7 L1170.0 1146.8 L1172.0 1146.9 L1174.0 1146.9 L1176.0 1147.0 L1178.0 1147.0 L1180.0 1147.1 L1182.0 1147.1 L1184.0 1147.2 L1186.0 1147.2 L1188.0 1147.3 L1190.0 1147.3 L1192.0 1147.3 L1194.0 1147.4 L1196.0 1147.4 L1198.0 1147.5 L1200.0 1147.5 L1202.0 1147.5 L1204.0 1147.6 L1206.0 1147.6 L1208.0 1147.6 L1210.0 1147.7 L1212.0 1147.7 L1214.0 1147.7 L1216.0 1147.8 L1218.0 1147.8 L1220.0 1147.8 L1222.0 1147.9 L1224.0 1147.9 L1226.0 1147.9 L1228.0 1148.0 L1230.0 1148.0 L1232.0 1148.0 L1234.0 1148.1 L1236.0 1148.1 L1238.0 1148.2 L1240.0 1148.2 L1242.0 1148.2 L1244.0 1148.3 L1246.0 1148.3 L1248.0 1148.4 L1250.0 1148.4 L1252.0 1148.4 L1254.0 1148.5 L1256.0 1148.5 L1258.0 1148.6 L1260.0 1148.6 L1262.0 1148.6 L1264.0 1148.7 L1266.0 1148.7 L1268.0 1148.7 L1270.0 1148.8 L1272.0 1148.8 L1274.0 1148.8 L1276.0 1148.9 L1278.0 1148.9 L1280.0 1148.9 L1282.0 1148.9 L1284.0 1148.9 L1286.0 1148.9 L1288.0 1149.0 L1290.0 1149.0 L1292.0 1149.0 L1294.0 1149.0 L1296.0 1149.0 L1298.0 1149.0 L1300.0 1149.1 L1302.0 1149.1 L1304.0 1149.1 L1306.0 1149.1 L1308.0 1149.1 L1310.0 1149.1 L1312.0 1149.2 L1314.0 1149.2 L1316.0 1149.2 L1318.0 1149.2 L1320.0 1149.2 L1322.0 1149.2 L1324.0 1149.2 L1326.0 1149.3 L1328.0 1149.3 L1330.0 1149.3 L1332.0 1149.3 L1334.0 1149.3 L1336.0 1149.3 L1338.0 1149.3 L1340.0 1149.4 L1342.0 1149.4 L1344.0 1149.4 L1346.0 1149.4 L1348.0 1149.4 L1350.0 1149.4 L1352.0 1149.4 L1354.0 1149.4 L1356.0 1149.5 L1358.0 1149.5 L1360.0 1149.5 L1362.0 1149.5 L1364.0 1149.5 L1366.0 1149.5 L1368.0 1149.5 L1370.0 1149.5 L1372.0 1149.6 L1374.0 1149.6 L1376.0 1149.6 L1378.0 1149.6 L1380.0 1149.6 L1382.0 1149.6 L1384.0 1149.6 L1386.0 1149.6 L1388.0 1149.6 L1390.0 1149.7 L1392.0 1149.7 L1394.0 1149.7 L1396.0 1149.7 L1398.0 1149.7 L1400.0 1149.7 L1402.0 1149.7 L1404.0 1149.7 L1406.0 1149.7 L1408.0 1149.7 L1410.0 1149.8 L1412.0 1149.8 L1414.0 1149.8 L1416.0 1149.8 L1418.0 1149.8 L1420.0 1149.8 L1422.0 1149.8 L1424.0 1149.8 L1426.0 1149.8 L1428.0 1149.8 L1430.0 1149.8 L1432.0 1149.8 L1434.0 1149.8 L1436.0 1149.9 L1438.0 1149.9 L1440.0 1149.9 L1442.0 1149.9 L1444.0 1149.9 L1446.0 1149.9 L1448.0 1149.9 L1450.0 1149.9 L1452.0 1149.9 L1454.0 1149.9 L1456.0 1149.9 L1458.0 1149.9 L1460.0 1149.9 L1462.0 1149.9 L1464.0 1149.9 L1466.0 1149.9 L1468.0 1149.9 L1470.0 1149.9 L1472.0 1150.0 L1474.0 1150.0 L1476.0 1150.0 L1478.0 1150.0 L1480.0 1150.0 L1482.0 1150.0 L1484.0 1150.0 L1486.0 1150.0 L1488.0 1150.0 L1490.0 1150.0 L1492.0 1150.0 L1494.0 1150.0 L1496.0 1150.0 L1498.0 1150.0 L1500.0 1150.0 L1502.0 1150.0 L1504.0 1150.0 L1506.0 1150.0 L1508.0 1150.0 L1510.0 1150.0 L1512.0 1150.0 L1514.0 1150.0 L1516.0 1150.0 L1518.0 1150.0"/>
</g></g>
<defs><clipPath id="clipPlot"><rect x="123" y="28" width="1394" height="1126"/></clipPath><filter id="soft" x="0" y="0" width="1577" height="1377" filterUnits="userSpaceOnUse"><feGaussianBlur stdDeviation="0.8"/></filter></defs>
<g shape-rendering="crispEdges">
<rect x="1517" y="28" width="3" height="1147" fill="#1a1a1a"/>
<rect x="144.2" y="1154" width="6" height="21" fill="#4a4a4a"/>
<rect x="372.8" y="1154" width="6" height="21" fill="#4a4a4a"/>
<rect x="601.3" y="1154" width="6" height="21" fill="#4a4a4a"/>
<rect x="829.9" y="1154" width="6" height="21" fill="#4a4a4a"/>
<rect x="1058.4" y="1154" width="6" height="21" fill="#4a4a4a"/>
<rect x="1287.0" y="1154" width="6" height="21" fill="#4a4a4a"/>
<rect x="258.5" y="1154" width="6" height="9" fill="#505050"/>
<rect x="487.0" y="1154" width="6" height="9" fill="#505050"/>
<rect x="715.6" y="1154" width="6" height="9" fill="#505050"/>
<rect x="944.1" y="1154" width="6" height="9" fill="#505050"/>
<rect x="1172.7" y="1154" width="6" height="9" fill="#505050"/>
<rect x="1401.2" y="1154" width="6" height="9" fill="#505050"/>
</g>
<g>
<text class="tick" transform="translate(146.5 1235.4) scale(1 1.03)">400</text>
<text class="tick" transform="translate(375.1 1235.4) scale(1 1.03)">450</text>
<text class="tick" transform="translate(603.7 1235.4) scale(1 1.03)">500</text>
<text class="tick" transform="translate(832.3 1235.4) scale(1 1.03)">550</text>
<text class="tick" transform="translate(1060.9 1235.4) scale(1 1.03)">600</text>
<text class="tick" transform="translate(1289.5 1235.4) scale(1 1.03)">650</text>
<text class="tick" transform="translate(1518.1 1235.4) scale(1 1.03)">700</text>
<text class="axl" x="821.6" y="1337.2" style="letter-spacing:0.2px">Wavelength (nm)</text>
<text class="axl" transform="translate(74.8 590.2) rotate(-90)" style="font-size:63.4px">Intensity</text>
<rect x="1175" y="90.8" width="147.8" height="6" fill="#515151"/>
<text class="leg" transform="translate(1336.5 115.9) scale(1 1.02)">80 K</text>
<rect x="1175" y="168.8" width="147.8" height="6" fill="#F14040"/>
<text class="leg" transform="translate(1336.5 193.9) scale(1 1.02)">120 K</text>
<rect x="1175" y="246.7" width="147.8" height="6" fill="#1A6FDF"/>
<text class="leg" transform="translate(1336.5 271.9) scale(1 1.02)">160 K</text>
<rect x="1175" y="324.7" width="147.8" height="6" fill="#37AD6B"/>
<text class="leg" transform="translate(1336.5 349.9) scale(1 1.02)">200 K</text>
<rect x="1175" y="402.6" width="147.8" height="6" fill="#B177DE"/>
<text class="leg" transform="translate(1336.5 427.9) scale(1 1.02)">240 K</text>
<rect x="1175" y="480.6" width="147.8" height="6" fill="#CC9900"/>
<text class="leg" transform="translate(1336.5 505.9) scale(1 1.02)">280 K</text>
<rect x="1175" y="558.6" width="147.8" height="6" fill="#00CBCC"/>
<text class="leg" transform="translate(1336.5 583.9) scale(1 1.02)">320 K</text>
<rect x="1175" y="636.5" width="147.8" height="6" fill="#7D4E4E"/>
<text class="leg" transform="translate(1336.5 661.9) scale(1 1.02)">360 K</text>
</g>
</svg>
</body>
</html>
